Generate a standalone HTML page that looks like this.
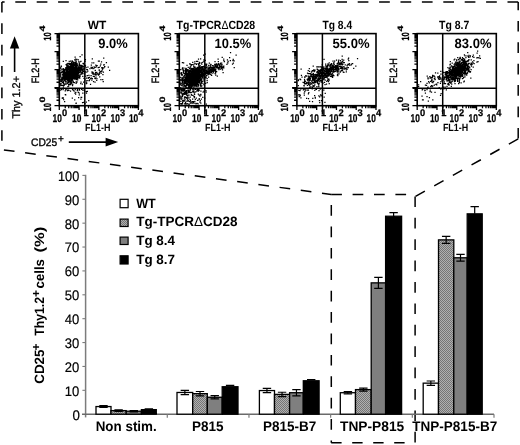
<!DOCTYPE html>
<html><head><meta charset="utf-8"><title>Figure</title>
<style>html,body{margin:0;padding:0;background:#fff}svg{display:block}text{font-family:"Liberation Sans", sans-serif;text-rendering:geometricPrecision}</style></head><body>
<svg width="520" height="445" viewBox="0 0 520 445" font-family='"Liberation Sans", sans-serif'>
<defs><pattern id="hatch" width="2" height="2" patternUnits="userSpaceOnUse"><rect width="2" height="2" fill="#b0b0b0"/><rect x="0" y="0" width="1" height="1" fill="#747474"/><rect x="1" y="1" width="1" height="1" fill="#747474"/></pattern><filter id="soft" x="0" y="0" width="520" height="445" filterUnits="userSpaceOnUse"><feGaussianBlur stdDeviation="0.38"/></filter></defs>
<rect width="520" height="445" fill="#fff"/>
<g filter="url(#soft)">
<rect width="520" height="445" fill="#fff"/>
<path d="M518.2 1.9 H1.9" stroke-dasharray="10.7 10.7" fill="none" stroke="#000" stroke-width="1.5"/>
<path d="M1.9 1.9 V140.7" stroke-dasharray="10.7 10.7" fill="none" stroke="#000" stroke-width="1.5"/>
<path d="M518.2 138.6 V1.9" stroke-dasharray="10.7 10.7" fill="none" stroke="#000" stroke-width="1.5"/>
<path d="M3.9 149.9 L331.2 194.4" stroke-dasharray="10.7 10.7" fill="none" stroke="#000" stroke-width="1.5"/>
<path d="M518.2 138.8 L415.1 196.6" stroke-dasharray="10.7 10.7" fill="none" stroke="#000" stroke-width="1.5"/>
<path d="M415.1 196.4 V446" stroke-dasharray="10.7 10.7" fill="none" stroke="#000" stroke-width="1.5"/>
<path d="M331.2 194.4 H408" stroke-dasharray="10.7 10.7" fill="none" stroke="#000" stroke-width="1.5"/>
<path d="M331.3 194.4 V442.8" stroke-dasharray="10.7 10.7" fill="none" stroke="#000" stroke-width="1.5" stroke-dashoffset="10.7"/>
<path d="M331.2 442.8 H408" stroke-dasharray="10.4 10.6" fill="none" stroke="#000" stroke-width="1.5"/>
<g>
<path d="M61.9 78.8h1.25M72.4 74.6h1.25M75.1 69.7h1.25M66.1 67.3h1.25M68.2 79.4h1.25M73.8 69.9h1.25M68.1 74.4h1.25M68.1 67.3h1.25M69.0 75.9h1.25M65.5 69.3h1.25M63.9 80.7h1.25M79.2 78.1h1.25M67.2 68.1h1.25M66.4 63.8h1.25M65.1 76.2h1.25M78.0 73.4h1.25M80.7 67.8h1.25M79.1 62.1h1.25M81.4 72.8h1.25M61.9 79.6h1.25M66.8 76.1h1.25M66.4 73.1h1.25M74.1 59.9h1.25M76.1 82.1h1.25M68.5 72.5h1.25M62.9 82.1h1.25M71.6 74.4h1.25M71.0 71.5h1.25M79.6 68.6h1.25M75.3 76.6h1.25M67.4 65.2h1.25M76.8 78.3h1.25M70.5 68.5h1.25M73.9 64.5h1.25M69.2 67.9h1.25M63.3 78.6h1.25M75.0 78.3h1.25M63.5 78.8h1.25M71.9 76.9h1.25M66.9 66.4h1.25M70.8 78.8h1.25M66.6 71.8h1.25M70.5 70.3h1.25M76.6 76.1h1.25M66.0 81.9h1.25M70.7 77.7h1.25M71.1 72.8h1.25M74.3 70.0h1.25M63.1 85.6h1.25M71.5 70.1h1.25M76.5 70.6h1.25M65.2 70.0h1.25M67.3 73.3h1.25M65.0 79.7h1.25M61.8 78.9h1.25M73.6 72.9h1.25M68.0 79.5h1.25M77.7 68.4h1.25M69.9 71.8h1.25M79.6 76.1h1.25M70.6 68.6h1.25M68.7 76.3h1.25M74.0 75.3h1.25M70.1 76.4h1.25M67.6 78.2h1.25M73.2 69.3h1.25M74.4 71.6h1.25M71.0 62.5h1.25M66.9 69.1h1.25M81.7 66.0h1.25M76.1 71.7h1.25M70.5 67.1h1.25M75.7 66.1h1.25M70.2 69.2h1.25M68.1 66.8h1.25M65.9 67.3h1.25M74.3 74.6h1.25M71.2 83.4h1.25M80.9 68.9h1.25M68.5 81.5h1.25M76.9 70.5h1.25M60.1 76.1h1.25M72.3 78.8h1.25M76.3 72.0h1.25M74.0 65.8h1.25M75.8 70.2h1.25M74.6 75.8h1.25M75.4 68.6h1.25M68.4 79.1h1.25M79.6 69.6h1.25M74.7 72.3h1.25M73.5 78.4h1.25M65.2 67.5h1.25M80.0 69.6h1.25M75.9 75.7h1.25M67.8 71.8h1.25M63.8 75.1h1.25M87.2 71.1h1.25M82.3 67.0h1.25M67.3 77.6h1.25M82.3 69.2h1.25M74.2 62.5h1.25M75.4 74.1h1.25M72.3 77.1h1.25M72.9 70.6h1.25M75.8 67.2h1.25M67.6 74.7h1.25M67.3 73.2h1.25M74.2 70.7h1.25M74.0 74.2h1.25M75.6 79.6h1.25M71.7 71.4h1.25M76.3 68.7h1.25M65.9 73.6h1.25M73.7 75.3h1.25M70.4 70.8h1.25M67.0 77.6h1.25M72.9 78.7h1.25M64.8 76.9h1.25M74.6 71.8h1.25M66.3 66.3h1.25M65.3 78.6h1.25M64.3 72.4h1.25M63.4 76.7h1.25M67.7 68.0h1.25M71.4 71.6h1.25M73.5 73.7h1.25M73.9 76.6h1.25M70.6 67.8h1.25M73.3 75.1h1.25M67.8 81.1h1.25M80.8 66.8h1.25M64.5 79.6h1.25M74.7 71.9h1.25M75.6 73.0h1.25M75.5 77.6h1.25M66.8 72.9h1.25M71.2 78.8h1.25M72.7 69.3h1.25M84.9 66.2h1.25M67.8 63.6h1.25M79.0 64.8h1.25M67.4 76.1h1.25M65.8 71.5h1.25M80.3 70.3h1.25M68.9 75.1h1.25M62.4 75.5h1.25M76.3 74.7h1.25M62.6 81.0h1.25M61.5 78.3h1.25M69.2 73.9h1.25M79.6 67.1h1.25M66.4 76.6h1.25M75.8 77.4h1.25M72.8 62.8h1.25M70.9 66.4h1.25M65.8 79.9h1.25M73.6 67.4h1.25M60.1 83.3h1.25M75.8 70.8h1.25M68.9 76.6h1.25M72.2 65.4h1.25M68.3 75.5h1.25M82.6 69.9h1.25M66.9 75.6h1.25M73.2 72.7h1.25M70.6 65.7h1.25M65.5 69.7h1.25M65.2 70.0h1.25M71.4 72.2h1.25M60.1 77.2h1.25M76.1 64.9h1.25M74.9 66.3h1.25M71.6 77.4h1.25M61.2 77.8h1.25M64.6 90.9h1.25M65.5 64.7h1.25M71.9 73.0h1.25M82.4 63.5h1.25M69.9 69.7h1.25M71.3 79.1h1.25M74.3 71.8h1.25M72.1 67.7h1.25M72.5 75.2h1.25M67.4 63.4h1.25M63.8 70.4h1.25M76.0 79.5h1.25M67.9 69.1h1.25M81.7 70.7h1.25M73.0 74.8h1.25M66.8 76.9h1.25M70.0 68.7h1.25M81.4 54.9h1.25M71.1 72.2h1.25M69.0 74.4h1.25M72.9 76.4h1.25M74.7 68.4h1.25M81.8 69.4h1.25M72.6 74.9h1.25M67.2 83.3h1.25M73.9 75.4h1.25M79.4 68.4h1.25M65.8 68.4h1.25M62.9 76.5h1.25M66.8 74.6h1.25M70.5 81.7h1.25M70.7 64.5h1.25M74.4 75.3h1.25M71.2 69.5h1.25M60.8 66.1h1.25M70.4 65.7h1.25M67.7 71.9h1.25M75.5 67.2h1.25M78.2 66.8h1.25M73.4 68.9h1.25M77.4 73.0h1.25M73.4 74.4h1.25M66.6 72.5h1.25M69.6 76.7h1.25M68.6 73.1h1.25M75.7 73.9h1.25M60.1 79.7h1.25M67.7 74.2h1.25M68.9 77.9h1.25M60.1 68.4h1.25M71.2 67.3h1.25M69.7 70.3h1.25M76.4 72.6h1.25M60.1 72.0h1.25M73.7 72.8h1.25M70.3 72.0h1.25M74.9 64.2h1.25M71.0 79.7h1.25M68.4 70.8h1.25M70.1 72.7h1.25M69.1 75.8h1.25M74.8 71.1h1.25M79.3 70.7h1.25M62.2 74.3h1.25M66.4 71.6h1.25M68.9 80.7h1.25M75.3 75.4h1.25M71.4 69.1h1.25M73.6 70.2h1.25M73.3 72.2h1.25M76.5 73.0h1.25M65.0 75.8h1.25M80.2 69.4h1.25M65.4 77.4h1.25M78.2 68.5h1.25M60.1 73.5h1.25M68.1 74.1h1.25M76.8 71.1h1.25M78.4 68.5h1.25M65.6 79.3h1.25M70.2 63.5h1.25M71.9 61.6h1.25M63.0 79.1h1.25M72.4 64.4h1.25M75.4 67.4h1.25M82.4 73.1h1.25M72.5 67.3h1.25M74.1 79.2h1.25M63.6 77.2h1.25M70.5 74.7h1.25M69.5 76.2h1.25M72.0 64.9h1.25M67.0 70.0h1.25M64.9 79.1h1.25M75.2 67.6h1.25M73.3 70.5h1.25M62.5 72.4h1.25M81.2 66.2h1.25M72.6 72.9h1.25M68.7 74.4h1.25M64.9 73.6h1.25M68.5 70.6h1.25M78.5 70.3h1.25M62.8 69.1h1.25M77.5 69.3h1.25M64.2 75.5h1.25M68.0 67.7h1.25M60.8 85.4h1.25M69.0 79.1h1.25M68.7 79.1h1.25M75.1 74.1h1.25M74.8 77.7h1.25M73.2 68.2h1.25M72.0 80.1h1.25M68.5 71.4h1.25M70.4 71.0h1.25M65.0 84.2h1.25M66.2 79.5h1.25M77.4 74.6h1.25M65.2 82.1h1.25M74.6 76.6h1.25M75.3 74.0h1.25M71.8 66.9h1.25M69.6 76.6h1.25M61.4 80.3h1.25M67.8 69.5h1.25M74.9 59.2h1.25M65.6 71.2h1.25M70.2 82.6h1.25M77.6 77.3h1.25M73.6 77.8h1.25M75.2 75.3h1.25M77.6 71.1h1.25M73.1 70.7h1.25M68.8 76.4h1.25M73.8 75.2h1.25M63.4 72.0h1.25M70.6 77.7h1.25M76.0 71.2h1.25M81.9 72.2h1.25M72.2 71.8h1.25M65.2 77.8h1.25M65.3 72.2h1.25M69.9 66.1h1.25M75.3 75.6h1.25M72.9 77.0h1.25M73.6 65.8h1.25M75.2 73.0h1.25M69.6 74.6h1.25M67.9 75.3h1.25M75.3 77.3h1.25M74.6 71.2h1.25M63.9 80.3h1.25M66.1 74.1h1.25M60.1 74.1h1.25M73.6 64.8h1.25M64.7 81.2h1.25M68.7 67.8h1.25M69.9 75.0h1.25M70.2 65.2h1.25M77.2 69.1h1.25M70.0 74.7h1.25M66.8 66.6h1.25M68.0 69.9h1.25M72.5 74.8h1.25M71.5 66.8h1.25M67.6 78.5h1.25M65.4 60.5h1.25M73.4 75.0h1.25M64.0 75.7h1.25M73.0 68.9h1.25M63.8 72.8h1.25M69.1 69.6h1.25M65.4 69.1h1.25M68.0 73.1h1.25M73.9 73.9h1.25M60.8 72.4h1.25M68.2 79.2h1.25M76.9 76.5h1.25M74.2 78.2h1.25M71.5 67.7h1.25M71.9 85.5h1.25M70.9 78.7h1.25M69.6 66.7h1.25M76.8 77.1h1.25M78.7 63.5h1.25M80.7 65.3h1.25M63.5 72.8h1.25M77.2 75.7h1.25M68.0 68.6h1.25M71.6 60.8h1.25M65.4 74.0h1.25M68.9 80.5h1.25M72.9 68.5h1.25M68.0 76.9h1.25M65.1 68.8h1.25M64.4 74.1h1.25M80.3 61.4h1.25M75.5 81.8h1.25M69.1 67.1h1.25M61.7 82.7h1.25M69.3 68.4h1.25M80.5 73.7h1.25M71.0 70.2h1.25M78.4 76.1h1.25M76.0 72.6h1.25M70.7 75.0h1.25M77.4 71.5h1.25M63.5 79.8h1.25M71.8 64.9h1.25M69.6 73.0h1.25M71.8 72.7h1.25M80.6 69.4h1.25M70.0 73.9h1.25M72.9 77.1h1.25M68.5 70.5h1.25M64.5 76.7h1.25M70.1 64.9h1.25M68.2 69.7h1.25M75.1 72.4h1.25M74.2 76.6h1.25M68.7 73.1h1.25M71.4 70.0h1.25M68.3 75.9h1.25M75.8 74.1h1.25M69.5 72.0h1.25M79.8 68.1h1.25M70.3 74.3h1.25M70.9 68.5h1.25M73.1 72.9h1.25M71.5 72.1h1.25M74.5 72.2h1.25M68.0 71.6h1.25M70.0 79.0h1.25M67.0 76.2h1.25M68.8 68.5h1.25M61.4 69.3h1.25M72.1 70.3h1.25M67.2 76.8h1.25M71.7 64.3h1.25M75.1 70.3h1.25M70.5 72.7h1.25M73.9 69.5h1.25M63.3 73.8h1.25M75.9 78.6h1.25M67.3 74.0h1.25M65.9 73.5h1.25M75.9 78.2h1.25M60.1 75.6h1.25M73.8 82.5h1.25M74.7 71.6h1.25M62.7 77.9h1.25M69.0 74.8h1.25M81.5 66.0h1.25M74.9 75.4h1.25M63.4 84.3h1.25M74.4 73.0h1.25M73.4 77.3h1.25M74.7 63.1h1.25M82.8 66.3h1.25M69.5 70.9h1.25M73.0 68.1h1.25M74.8 68.1h1.25M77.8 75.6h1.25M67.3 71.8h1.25M77.6 74.5h1.25M70.0 76.0h1.25M72.6 81.4h1.25M74.9 65.4h1.25M81.0 67.3h1.25M71.1 69.3h1.25M77.0 72.1h1.25M70.4 70.7h1.25M62.2 75.0h1.25M85.0 76.2h1.25M71.4 69.7h1.25M74.3 69.5h1.25M69.8 78.9h1.25M67.9 74.5h1.25M79.2 67.7h1.25M67.3 83.1h1.25M74.5 75.0h1.25M73.0 71.3h1.25M76.2 66.8h1.25M70.1 73.1h1.25M73.2 82.6h1.25M64.1 77.8h1.25M72.8 67.8h1.25M76.0 69.0h1.25M69.8 75.5h1.25M70.8 74.4h1.25M69.7 70.1h1.25M66.2 83.9h1.25M72.9 66.2h1.25M74.2 70.7h1.25M68.3 81.8h1.25M69.5 81.3h1.25M68.2 80.3h1.25M68.8 74.7h1.25M79.2 65.2h1.25M61.1 79.0h1.25M77.3 73.8h1.25M69.5 71.9h1.25M65.8 81.8h1.25M66.0 74.5h1.25M70.1 76.5h1.25M71.0 80.2h1.25M66.5 78.5h1.25M64.6 72.3h1.25M70.3 78.1h1.25M70.9 68.9h1.25M68.0 68.9h1.25M70.6 75.5h1.25M75.9 69.2h1.25M69.4 81.2h1.25M66.1 76.9h1.25M71.7 70.4h1.25M75.5 83.4h1.25M69.3 84.3h1.25M60.1 73.6h1.25M71.0 70.8h1.25M70.4 84.0h1.25M74.6 70.4h1.25M67.2 73.9h1.25M72.3 68.2h1.25M64.4 73.9h1.25M66.2 78.2h1.25M72.3 81.4h1.25M72.1 67.5h1.25M66.2 71.5h1.25M74.4 69.6h1.25M66.9 69.7h1.25M74.8 73.4h1.25M60.1 72.4h1.25M67.7 81.6h1.25M72.1 63.6h1.25M68.1 73.5h1.25M73.2 76.5h1.25M73.5 72.0h1.25M71.7 78.0h1.25M68.0 86.2h1.25M69.5 73.4h1.25M62.0 85.3h1.25M66.0 71.3h1.25M65.3 73.9h1.25M69.5 66.8h1.25M73.9 71.1h1.25M75.7 63.8h1.25M67.9 68.6h1.25M74.8 65.0h1.25M79.8 69.1h1.25M78.3 71.4h1.25M63.4 73.1h1.25M69.7 71.7h1.25M75.7 67.2h1.25M74.5 74.4h1.25M63.2 73.9h1.25M74.8 73.1h1.25M60.1 70.1h1.25M64.7 78.0h1.25M62.8 78.3h1.25M75.4 69.7h1.25M65.8 78.2h1.25M84.5 65.3h1.25M76.0 63.0h1.25M71.4 62.1h1.25M74.3 64.5h1.25M74.0 70.3h1.25M68.5 66.8h1.25M75.0 75.5h1.25M67.2 77.6h1.25M71.0 78.7h1.25M69.9 84.5h1.25M72.0 70.8h1.25M68.9 84.5h1.25M60.1 72.0h1.25M62.7 61.4h1.25M68.0 76.4h1.25M70.6 72.9h1.25M64.2 77.7h1.25M68.0 79.3h1.25M71.0 76.1h1.25M67.5 70.0h1.25M70.0 78.5h1.25M74.2 74.9h1.25M63.2 72.7h1.25M70.7 71.0h1.25M76.6 70.3h1.25M74.0 68.1h1.25M71.2 75.3h1.25M76.4 81.8h1.25M74.4 71.8h1.25M78.5 69.5h1.25M69.4 82.0h1.25M73.5 69.5h1.25M65.0 78.2h1.25M63.9 74.0h1.25M67.8 82.4h1.25M66.7 72.5h1.25M72.5 72.9h1.25M69.7 73.9h1.25M72.9 72.8h1.25M60.1 72.5h1.25M73.2 62.1h1.25M69.4 64.4h1.25M69.0 75.8h1.25M70.5 69.8h1.25M71.1 74.4h1.25M67.6 72.1h1.25M63.9 71.0h1.25M60.1 68.3h1.25M70.6 66.6h1.25M63.1 71.6h1.25M60.1 75.8h1.25M63.0 83.3h1.25M72.4 74.7h1.25M63.5 85.4h1.25M85.5 67.5h1.25M65.4 68.8h1.25M64.1 72.4h1.25M71.1 74.6h1.25M76.3 72.5h1.25M76.7 69.4h1.25M73.4 70.2h1.25M62.5 81.7h1.25M76.1 68.1h1.25M75.0 69.9h1.25M70.8 74.1h1.25M69.3 71.7h1.25M72.3 78.5h1.25M74.1 70.3h1.25M74.7 77.5h1.25M64.0 75.3h1.25M66.5 68.5h1.25M75.9 69.0h1.25M71.1 78.9h1.25M68.8 67.3h1.25M68.9 74.2h1.25M69.8 75.4h1.25M69.8 78.3h1.25M65.9 75.2h1.25M65.1 75.7h1.25M76.4 79.6h1.25M66.1 70.8h1.25M67.2 82.8h1.25M66.5 78.6h1.25M69.0 73.8h1.25M79.2 75.1h1.25M71.6 69.9h1.25M78.9 77.3h1.25M66.0 75.6h1.25M73.0 74.6h1.25M62.4 71.6h1.25M66.4 76.3h1.25M73.4 68.9h1.25M72.8 82.3h1.25M72.2 75.6h1.25M76.6 71.2h1.25M63.0 71.7h1.25M76.1 73.5h1.25M78.5 64.3h1.25M63.4 70.1h1.25M73.3 71.6h1.25M63.3 72.7h1.25M66.9 78.9h1.25M69.1 82.1h1.25M71.1 76.2h1.25M75.6 61.2h1.25M75.0 67.7h1.25M61.6 71.2h1.25M68.9 67.4h1.25M83.1 71.3h1.25M75.7 78.9h1.25M62.9 75.1h1.25M86.2 72.0h1.25M69.8 67.6h1.25M68.4 76.5h1.25M73.5 69.1h1.25M70.8 74.0h1.25M66.7 75.2h1.25M74.7 73.6h1.25M73.1 78.0h1.25M72.2 71.7h1.25M81.2 73.1h1.25M78.5 67.8h1.25M76.5 70.4h1.25M62.9 70.9h1.25M67.1 66.4h1.25M63.3 77.7h1.25M76.7 64.0h1.25M69.5 83.6h1.25M62.9 76.0h1.25M76.9 77.8h1.25M73.8 68.9h1.25M72.4 65.2h1.25M67.4 80.3h1.25M70.9 76.9h1.25M70.9 82.4h1.25M70.3 71.9h1.25M79.4 72.3h1.25M69.3 66.0h1.25M72.6 72.0h1.25M70.3 80.0h1.25M72.4 67.3h1.25M69.3 67.7h1.25M73.2 74.1h1.25M66.3 68.0h1.25M80.8 72.2h1.25M78.3 71.2h1.25M67.3 74.7h1.25M76.7 69.5h1.25M75.0 68.7h1.25M68.7 71.2h1.25M71.5 71.1h1.25M76.6 67.2h1.25M68.9 64.4h1.25M72.1 70.7h1.25M68.1 63.7h1.25M69.6 78.7h1.25M69.2 77.0h1.25M77.6 68.1h1.25M82.2 76.3h1.25M75.8 73.1h1.25M75.2 62.6h1.25M75.9 73.1h1.25M69.6 76.4h1.25M83.5 68.9h1.25M80.5 74.4h1.25M64.9 83.8h1.25M62.9 73.2h1.25M60.1 84.9h1.25M64.0 74.6h1.25M68.1 68.9h1.25M72.5 72.1h1.25M74.2 78.8h1.25M69.7 76.0h1.25M77.1 79.9h1.25M77.6 74.5h1.25M78.0 61.8h1.25M68.9 74.3h1.25M64.7 94.5h1.25M75.3 63.1h1.25M77.1 78.2h1.25M66.9 79.0h1.25M75.5 64.3h1.25M79.5 56.6h1.25M71.6 77.5h1.25M77.8 67.9h1.25M64.1 80.6h1.25M74.6 73.8h1.25M69.0 75.7h1.25M72.6 69.4h1.25M69.2 71.7h1.25M67.6 81.8h1.25M72.1 84.5h1.25M68.0 84.6h1.25M69.0 74.1h1.25M60.1 80.8h1.25M71.7 67.6h1.25M71.5 75.4h1.25M65.7 76.8h1.25M80.5 66.8h1.25M66.8 77.4h1.25M73.6 74.4h1.25M64.3 79.0h1.25M76.4 65.2h1.25M66.7 66.5h1.25M65.4 73.9h1.25M69.5 75.9h1.25M77.6 77.1h1.25M72.0 68.5h1.25M72.4 77.1h1.25M68.4 69.9h1.25M69.8 78.1h1.25M60.8 81.3h1.25M68.6 72.2h1.25M78.6 67.0h1.25M64.3 73.4h1.25M71.0 66.3h1.25M63.1 76.8h1.25M66.0 72.7h1.25M69.1 71.4h1.25M82.7 63.3h1.25M62.6 68.5h1.25M70.8 70.9h1.25M75.7 67.7h1.25M81.3 65.6h1.25M61.9 74.0h1.25M75.8 77.5h1.25M69.2 71.9h1.25M76.2 69.8h1.25M73.8 74.6h1.25M81.7 70.1h1.25M75.1 73.5h1.25M70.9 65.7h1.25M71.2 67.5h1.25M75.0 73.6h1.25M66.8 78.4h1.25M72.5 69.3h1.25M71.9 79.4h1.25M72.5 71.3h1.25M75.5 70.6h1.25M60.1 67.6h1.25M68.5 72.4h1.25M83.3 64.2h1.25M72.8 73.9h1.25M84.1 74.3h1.25M69.8 72.4h1.25M66.0 81.8h1.25M70.8 80.5h1.25M86.1 69.7h1.25M73.8 72.6h1.25M64.8 74.7h1.25M72.1 77.0h1.25M73.0 74.5h1.25M75.4 62.3h1.25M77.9 69.4h1.25M60.1 90.0h1.25M71.8 72.3h1.25M68.7 79.7h1.25M79.8 71.5h1.25M73.8 75.7h1.25M76.2 59.4h1.25M63.1 69.7h1.25M70.5 75.9h1.25M71.7 74.9h1.25M71.4 75.7h1.25M73.2 71.3h1.25M60.8 89.4h1.25M69.6 77.0h1.25M75.4 70.7h1.25M75.3 75.2h1.25M68.6 61.4h1.25M76.0 73.0h1.25M62.7 87.0h1.25M75.3 68.2h1.25M75.3 68.4h1.25M70.7 63.8h1.25M69.8 75.6h1.25M73.1 73.5h1.25M62.0 82.2h1.25M75.7 74.3h1.25M81.3 68.5h1.25M72.6 67.1h1.25M75.7 79.1h1.25M77.7 73.0h1.25M65.4 70.1h1.25M64.5 74.3h1.25M75.9 64.2h1.25M76.5 71.9h1.25M79.2 74.9h1.25M68.1 71.7h1.25M75.9 70.3h1.25M74.5 57.2h1.25M77.4 71.4h1.25M70.5 73.9h1.25M65.9 65.0h1.25M67.6 65.9h1.25M67.3 76.6h1.25M72.9 74.0h1.25M70.5 75.2h1.25M67.9 72.7h1.25M78.7 68.5h1.25M67.4 82.6h1.25M74.1 74.2h1.25M74.5 72.5h1.25M74.6 71.0h1.25M64.1 84.2h1.25M61.9 77.0h1.25M74.4 70.0h1.25M68.0 74.8h1.25M64.9 75.6h1.25M67.7 82.1h1.25M78.3 70.2h1.25M75.4 75.5h1.25M74.8 71.8h1.25M60.5 66.4h1.25M80.6 65.5h1.25M74.9 75.9h1.25M66.5 69.9h1.25M67.5 72.0h1.25M70.9 70.4h1.25M65.4 69.9h1.25M70.0 61.0h1.25M60.1 79.0h1.25M72.0 65.6h1.25M73.1 68.9h1.25M68.9 76.3h1.25M68.0 72.6h1.25M75.3 76.8h1.25M72.3 74.0h1.25M82.5 66.1h1.25M73.9 78.4h1.25M84.4 61.4h1.25M72.1 72.8h1.25M74.9 71.0h1.25M68.1 76.1h1.25M72.1 71.0h1.25M73.3 71.4h1.25M68.8 63.3h1.25M60.1 73.0h1.25M68.0 68.1h1.25M69.8 68.5h1.25M69.1 69.9h1.25M78.4 68.3h1.25M66.0 79.7h1.25M67.7 69.9h1.25M73.1 74.0h1.25M77.1 73.0h1.25M72.6 73.8h1.25M72.3 69.1h1.25M71.5 75.0h1.25M66.7 70.9h1.25M74.8 69.6h1.25M83.3 68.2h1.25M70.0 74.2h1.25M77.2 72.4h1.25M78.3 77.8h1.25M65.1 69.5h1.25M66.4 74.1h1.25M73.1 69.7h1.25M72.8 73.0h1.25M69.1 77.5h1.25M70.8 65.1h1.25M76.3 70.4h1.25M72.6 82.3h1.25M78.0 67.2h1.25M71.3 70.4h1.25M70.0 72.4h1.25M70.8 69.4h1.25M72.7 77.8h1.25M62.1 77.9h1.25M75.6 67.3h1.25M78.4 72.5h1.25M75.5 69.4h1.25M76.8 65.7h1.25M75.0 78.5h1.25M75.8 70.9h1.25M77.7 59.8h1.25M73.8 67.5h1.25M71.2 76.6h1.25M80.6 67.5h1.25M82.2 73.9h1.25M70.4 74.5h1.25M72.2 71.8h1.25M69.4 70.4h1.25M68.7 76.7h1.25M67.7 75.6h1.25M65.9 73.0h1.25M60.1 85.5h1.25M76.4 73.9h1.25M63.2 75.3h1.25M75.2 60.9h1.25M73.8 65.8h1.25M75.3 75.3h1.25M64.5 75.2h1.25M71.5 77.8h1.25M64.3 78.1h1.25M77.2 71.9h1.25M62.7 77.4h1.25M67.3 86.6h1.25M68.0 66.3h1.25M73.2 68.9h1.25M63.9 69.4h1.25M66.8 90.7h1.25M69.3 63.4h1.25M73.5 73.3h1.25M67.1 80.7h1.25M66.5 65.2h1.25M71.5 77.5h1.25M73.7 72.1h1.25M69.7 72.6h1.25M77.9 68.7h1.25M82.3 71.1h1.25M77.2 70.3h1.25M76.0 70.7h1.25M74.0 73.4h1.25M70.4 63.8h1.25M71.7 70.2h1.25M76.5 63.8h1.25M79.7 65.7h1.25M73.3 71.0h1.25M60.1 84.2h1.25M71.5 76.2h1.25M70.3 70.0h1.25M70.3 79.7h1.25M84.8 59.5h1.25M71.4 69.2h1.25M63.9 76.1h1.25M65.7 74.4h1.25M75.5 73.2h1.25M74.5 68.8h1.25M74.1 64.9h1.25M69.7 77.5h1.25M73.4 63.7h1.25M60.1 81.3h1.25M77.1 70.5h1.25M74.0 68.0h1.25M70.2 79.6h1.25M76.4 76.1h1.25M71.4 71.1h1.25M70.6 71.5h1.25M69.8 75.7h1.25M75.7 69.8h1.25M72.3 68.3h1.25M75.1 75.2h1.25M73.9 77.8h1.25M63.9 79.1h1.25M72.0 67.3h1.25M72.7 76.5h1.25M60.1 75.0h1.25M70.2 80.0h1.25M60.4 83.6h1.25M67.1 67.4h1.25M71.9 65.6h1.25M73.6 65.3h1.25M78.4 65.7h1.25M71.9 76.7h1.25M75.0 75.6h1.25M61.9 72.1h1.25M69.0 67.3h1.25M76.6 69.0h1.25M76.4 76.9h1.25M62.9 82.7h1.25M71.9 71.3h1.25M95.5 74.5h1.25M99.9 71.5h1.25M98.0 75.2h1.25M89.9 84.3h1.25M91.8 67.4h1.25M103.5 64.6h1.25M98.7 61.1h1.25M93.8 67.9h1.25M94.4 82.1h1.25M96.1 72.8h1.25M104.0 66.7h1.25M95.7 66.0h1.25M109.0 70.3h1.25M100.9 61.8h1.25M94.6 73.8h1.25M92.5 74.3h1.25M101.2 71.6h1.25M89.4 68.7h1.25M83.4 78.4h1.25M84.8 71.9h1.25M99.8 65.8h1.25M100.5 73.3h1.25M104.2 66.5h1.25M101.3 70.3h1.25M91.4 71.8h1.25M80.4 82.0h1.25M84.2 73.0h1.25M94.9 72.6h1.25M92.3 72.3h1.25M91.7 58.9h1.25M95.2 67.4h1.25M97.5 74.7h1.25M81.7 84.0h1.25M89.2 79.3h1.25M90.9 78.0h1.25M94.7 70.7h1.25M96.1 80.4h1.25M92.9 81.7h1.25M102.3 68.4h1.25M92.7 76.4h1.25M97.8 61.0h1.25M105.8 62.7h1.25M80.1 83.6h1.25M102.0 69.1h1.25M96.1 72.3h1.25M93.5 66.8h1.25M98.7 73.2h1.25M94.8 78.5h1.25M102.8 72.1h1.25M93.9 74.0h1.25M85.9 78.0h1.25M93.7 76.4h1.25M91.7 78.7h1.25M87.2 80.5h1.25M102.1 79.7h1.25M94.8 74.5h1.25M93.1 62.8h1.25M98.6 70.3h1.25M90.5 75.7h1.25M91.2 80.1h1.25M87.7 77.5h1.25M92.7 73.0h1.25M102.3 74.5h1.25M101.0 67.9h1.25M87.3 67.1h1.25M88.3 75.3h1.25M91.5 73.2h1.25M103.4 67.6h1.25M95.4 77.2h1.25M86.8 69.7h1.25M88.8 80.7h1.25M90.1 78.3h1.25M99.2 72.3h1.25M102.6 81.6h1.25M92.5 68.7h1.25M99.1 76.9h1.25M91.4 62.8h1.25M85.5 80.7h1.25M98.3 73.8h1.25M96.5 65.6h1.25M86.7 75.7h1.25M90.4 75.7h1.25M88.8 77.3h1.25M107.7 67.1h1.25M98.6 74.4h1.25M96.3 78.7h1.25M90.7 65.1h1.25M96.8 73.8h1.25M94.6 70.4h1.25M84.4 79.1h1.25M87.6 78.4h1.25M100.2 64.1h1.25M96.3 73.1h1.25M95.2 65.2h1.25M98.6 67.4h1.25M97.6 67.7h1.25M83.0 82.2h1.25M98.6 69.9h1.25M85.6 82.2h1.25M91.1 68.4h1.25M103.2 65.1h1.25M90.5 67.4h1.25M101.7 67.6h1.25M103.1 58.2h1.25M95.3 75.0h1.25M94.1 78.1h1.25M86.2 83.0h1.25M100.3 79.5h1.25M85.7 83.7h1.25M99.5 71.3h1.25M74.1 99.8h1.25M69.9 91.0h1.25M74.3 93.2h1.25M71.7 98.2h1.25M62.4 97.5h1.25M83.2 102.4h1.25M75.4 103.4h1.25M85.7 102.1h1.25M61.6 98.1h1.25M63.1 99.7h1.25M64.0 101.5h1.25M85.5 91.6h1.25M75.0 94.0h1.25M82.1 90.0h1.25M62.5 98.3h1.25M81.9 102.5h1.25M62.5 89.7h1.25M86.7 91.4h1.25M75.2 92.4h1.25M88.1 100.5h1.25M78.7 94.8h1.25M77.7 92.4h1.25M65.1 94.8h1.25M78.6 93.2h1.25M82.2 93.1h1.25M78.0 97.5h1.25M80.3 99.0h1.25M85.9 93.1h1.25M80.5 97.3h1.25M78.9 90.0h1.25M75.6 103.2h1.25M73.5 91.0h1.25M81.0 97.4h1.25M84.3 103.6h1.25M68.3 90.3h1.25M67.5 88.9h1.25M78.8 89.2h1.25M71.9 89.5h1.25M67.0 90.7h1.25M74.6 89.6h1.25M81.0 89.4h1.25M77.0 90.5h1.25M66.3 88.9h1.25M77.0 89.4h1.25M83.5 90.0h1.25M65.2 89.5h1.25M76.6 90.1h1.25M72.8 90.1h1.25" stroke="#000" stroke-width="1.25" fill="none"/>
<rect x="59.3" y="33.6" width="79.1" height="72.1" fill="none" stroke="#000" stroke-width="1.6"/>
<line x1="84.8" y1="33.6" x2="84.8" y2="114.7" stroke="#000" stroke-width="1.5" />
<line x1="54.699999999999996" y1="88.2" x2="138.39999999999998" y2="88.2" stroke="#000" stroke-width="1.6" />
<path d="M59.30 105.7v4.2M59.3 105.70h-4.8M65.25 105.7v2.6M59.3 100.27h-2.8M68.74 105.7v2.6M59.3 97.10h-2.8M71.21 105.7v2.6M59.3 94.85h-2.8M73.12 105.7v2.6M59.3 93.10h-2.8M74.69 105.7v2.6M59.3 91.67h-2.8M76.01 105.7v2.6M59.3 90.47h-2.8M77.16 105.7v2.6M59.3 89.42h-2.8M78.17 105.7v2.6M59.3 88.50h-2.8M79.07 105.7v4.2M59.3 87.68h-4.8M85.03 105.7v2.6M59.3 82.25h-2.8M88.51 105.7v2.6M59.3 79.07h-2.8M90.98 105.7v2.6M59.3 76.82h-2.8M92.90 105.7v2.6M59.3 75.08h-2.8M94.46 105.7v2.6M59.3 73.65h-2.8M95.79 105.7v2.6M59.3 72.44h-2.8M96.93 105.7v2.6M59.3 71.40h-2.8M97.95 105.7v2.6M59.3 70.47h-2.8M98.85 105.7v4.2M59.3 69.65h-4.8M104.80 105.7v2.6M59.3 64.22h-2.8M108.29 105.7v2.6M59.3 61.05h-2.8M110.76 105.7v2.6M59.3 58.80h-2.8M112.67 105.7v2.6M59.3 57.05h-2.8M114.24 105.7v2.6M59.3 55.62h-2.8M115.56 105.7v2.6M59.3 54.42h-2.8M116.71 105.7v2.6M59.3 53.37h-2.8M117.72 105.7v2.6M59.3 52.45h-2.8M118.62 105.7v4.2M59.3 51.63h-4.8M124.58 105.7v2.6M59.3 46.20h-2.8M128.06 105.7v2.6M59.3 43.02h-2.8M130.53 105.7v2.6M59.3 40.77h-2.8M132.45 105.7v2.6M59.3 39.03h-2.8M134.01 105.7v2.6M59.3 37.60h-2.8M135.34 105.7v2.6M59.3 36.39h-2.8M136.48 105.7v2.6M59.3 35.35h-2.8M137.50 105.7v2.6M59.3 34.42h-2.8M138.40 105.7v4.2M59.3 33.60h-4.8" stroke="#000" stroke-width="1.3" fill="none"/>
<text x="52.6" y="121.5" font-size="11.2" font-weight="bold" text-anchor="start" fill="#000" textLength="9.3" lengthAdjust="spacingAndGlyphs" stroke="#000" stroke-width="0.25">10</text>
<text x="62.0" y="115.9" font-size="9.6" font-weight="bold" text-anchor="start" fill="#000" textLength="5.2" lengthAdjust="spacingAndGlyphs" stroke="#000" stroke-width="0.25">0</text>
<text x="72.0" y="121.5" font-size="11.2" font-weight="bold" text-anchor="start" fill="#000" textLength="9.3" lengthAdjust="spacingAndGlyphs" stroke="#000" stroke-width="0.25">10</text>
<text x="83.4" y="115.9" font-size="9.6" font-weight="bold" text-anchor="start" fill="#000" textLength="5.2" lengthAdjust="spacingAndGlyphs" stroke="#000" stroke-width="0.25">1</text>
<text x="91.6" y="121.5" font-size="11.2" font-weight="bold" text-anchor="start" fill="#000" textLength="9.3" lengthAdjust="spacingAndGlyphs" stroke="#000" stroke-width="0.25">10</text>
<text x="101.0" y="115.9" font-size="9.6" font-weight="bold" text-anchor="start" fill="#000" textLength="5.2" lengthAdjust="spacingAndGlyphs" stroke="#000" stroke-width="0.25">2</text>
<text x="110.6" y="121.5" font-size="11.2" font-weight="bold" text-anchor="start" fill="#000" textLength="9.3" lengthAdjust="spacingAndGlyphs" stroke="#000" stroke-width="0.25">10</text>
<text x="120.0" y="115.9" font-size="9.6" font-weight="bold" text-anchor="start" fill="#000" textLength="5.2" lengthAdjust="spacingAndGlyphs" stroke="#000" stroke-width="0.25">3</text>
<text x="128.9" y="121.5" font-size="11.2" font-weight="bold" text-anchor="start" fill="#000" textLength="9.3" lengthAdjust="spacingAndGlyphs" stroke="#000" stroke-width="0.25">10</text>
<text x="138.3" y="115.9" font-size="9.6" font-weight="bold" text-anchor="start" fill="#000" textLength="5.2" lengthAdjust="spacingAndGlyphs" stroke="#000" stroke-width="0.25">4</text>
<text x="85.0" y="131.4" font-size="10.4" font-weight="bold" text-anchor="start" fill="#000" textLength="25.4" lengthAdjust="spacingAndGlyphs" >FL1-H</text>
<g transform="translate(50.7 111.6) rotate(-90)">
<text x="0" y="0" font-size="10.4" font-weight="bold" text-anchor="start" fill="#000" textLength="8.6" lengthAdjust="spacingAndGlyphs" stroke="#000" stroke-width="0.25">10</text>
<text x="9.2" y="-5.4" font-size="7.8" font-weight="bold" text-anchor="start" fill="#000" textLength="6.0" lengthAdjust="spacingAndGlyphs" stroke="#000" stroke-width="0.25">0</text>
</g>
<g transform="translate(50.7 40.8) rotate(-90)">
<text x="0" y="0" font-size="10.4" font-weight="bold" text-anchor="start" fill="#000" textLength="8.6" lengthAdjust="spacingAndGlyphs" stroke="#000" stroke-width="0.25">10</text>
<text x="9.2" y="-5.4" font-size="7.8" font-weight="bold" text-anchor="start" fill="#000" textLength="6.0" lengthAdjust="spacingAndGlyphs" stroke="#000" stroke-width="0.25">4</text>
</g>
<g transform="translate(38.9 83.2) rotate(-90)">
<text x="0" y="0" font-size="10.6" font-weight="normal" text-anchor="start" fill="#000" textLength="24.8" lengthAdjust="spacingAndGlyphs" stroke="#000" stroke-width="0.4">FL2-H</text>
</g>
<text x="97" y="28.9" font-size="11.9" font-weight="bold" text-anchor="middle" fill="#000" >WT</text>
<text x="98.3" y="48.1" font-size="13.6" font-weight="bold" text-anchor="start" fill="#000" textLength="29.4" lengthAdjust="spacingAndGlyphs" >9.0%</text>
</g>
<g>
<path d="M199.4 80.2h1.25M185.5 81.9h1.25M190.9 76.3h1.25M197.7 85.5h1.25M192.5 68.7h1.25M188.1 82.3h1.25M197.9 64.5h1.25M194.1 71.3h1.25M194.2 83.0h1.25M193.6 77.5h1.25M199.7 77.8h1.25M184.5 83.5h1.25M203.5 81.7h1.25M184.3 79.1h1.25M199.6 68.2h1.25M184.2 81.8h1.25M191.6 74.8h1.25M194.1 86.2h1.25M197.4 70.4h1.25M190.9 74.5h1.25M201.2 74.8h1.25M194.1 81.2h1.25M183.3 84.1h1.25M188.0 79.1h1.25M193.9 78.6h1.25M187.5 71.5h1.25M185.2 85.9h1.25M189.8 64.0h1.25M194.7 80.1h1.25M191.2 87.0h1.25M196.5 78.3h1.25M200.5 70.7h1.25M185.4 80.2h1.25M193.4 77.5h1.25M197.0 84.0h1.25M202.5 77.4h1.25M196.0 69.2h1.25M195.7 73.7h1.25M196.4 77.2h1.25M200.2 86.0h1.25M189.3 78.9h1.25M192.5 81.9h1.25M189.0 72.8h1.25M196.9 74.5h1.25M189.8 83.8h1.25M194.7 79.5h1.25M195.6 76.4h1.25M189.2 89.1h1.25M184.0 83.3h1.25M187.5 75.2h1.25M186.0 80.9h1.25M197.0 69.4h1.25M182.8 71.0h1.25M202.9 74.4h1.25M191.5 78.2h1.25M206.0 75.6h1.25M189.6 85.6h1.25M199.9 74.4h1.25M185.3 82.4h1.25M191.7 74.9h1.25M188.3 80.0h1.25M188.4 70.9h1.25M203.9 73.0h1.25M187.5 88.9h1.25M183.1 82.9h1.25M193.8 78.9h1.25M199.1 83.1h1.25M196.7 69.1h1.25M191.3 73.4h1.25M180.7 74.7h1.25M189.8 86.8h1.25M195.7 84.5h1.25M181.1 90.2h1.25M190.0 82.9h1.25M187.7 78.6h1.25M198.0 76.5h1.25M198.2 78.7h1.25M186.6 80.2h1.25M190.6 80.0h1.25M197.0 81.4h1.25M192.8 79.0h1.25M204.1 70.5h1.25M197.9 69.4h1.25M190.7 92.5h1.25M189.5 71.4h1.25M188.7 78.5h1.25M185.5 74.7h1.25M192.2 89.3h1.25M196.6 67.9h1.25M198.3 77.2h1.25M202.7 68.9h1.25M190.4 74.0h1.25M181.5 74.4h1.25M196.1 68.3h1.25M187.3 80.3h1.25M198.1 75.6h1.25M192.2 73.3h1.25M194.9 77.8h1.25M180.1 87.5h1.25M190.2 78.9h1.25M199.0 82.4h1.25M190.7 84.5h1.25M191.3 72.8h1.25M189.6 78.6h1.25M197.5 77.8h1.25M195.5 69.5h1.25M187.9 81.8h1.25M185.7 78.4h1.25M186.0 79.2h1.25M188.3 87.9h1.25M195.4 86.2h1.25M188.1 77.7h1.25M185.6 87.3h1.25M186.6 85.0h1.25M183.1 81.0h1.25M193.3 66.9h1.25M181.1 75.0h1.25M195.8 64.3h1.25M192.5 81.2h1.25M199.1 77.2h1.25M194.9 84.5h1.25M184.9 80.6h1.25M190.5 78.8h1.25M190.5 81.5h1.25M194.6 81.2h1.25M194.5 81.5h1.25M191.3 78.1h1.25M191.0 86.6h1.25M188.2 87.0h1.25M193.8 78.2h1.25M184.9 72.9h1.25M203.3 78.5h1.25M181.9 67.8h1.25M193.3 78.5h1.25M206.5 80.7h1.25M189.4 87.1h1.25M194.8 79.3h1.25M189.6 84.4h1.25M196.1 75.9h1.25M192.5 80.2h1.25M198.2 74.2h1.25M192.9 79.3h1.25M185.8 74.2h1.25M190.6 85.4h1.25M198.4 71.3h1.25M194.7 72.5h1.25M189.0 85.3h1.25M182.6 88.5h1.25M198.1 73.1h1.25M210.8 72.6h1.25M192.5 81.1h1.25M188.3 75.8h1.25M189.9 74.6h1.25M195.9 76.7h1.25M204.2 77.9h1.25M200.5 75.6h1.25M190.8 70.1h1.25M190.9 80.3h1.25M193.1 76.3h1.25M196.9 76.1h1.25M194.7 75.2h1.25M181.9 78.2h1.25M192.6 72.1h1.25M191.3 68.5h1.25M194.2 76.5h1.25M187.0 70.9h1.25M191.5 83.2h1.25M188.3 73.9h1.25M203.6 80.1h1.25M185.5 87.5h1.25M201.4 77.2h1.25M197.5 84.1h1.25M196.8 76.0h1.25M196.1 78.8h1.25M198.8 77.3h1.25M191.0 72.0h1.25M190.3 80.8h1.25M202.6 66.5h1.25M192.5 78.3h1.25M180.1 84.9h1.25M186.2 70.8h1.25M197.5 67.8h1.25M192.2 75.7h1.25M191.8 82.9h1.25M186.7 81.5h1.25M187.2 76.9h1.25M192.3 80.7h1.25M183.0 62.8h1.25M205.0 83.3h1.25M190.5 74.3h1.25M195.8 81.7h1.25M189.9 78.0h1.25M197.6 69.6h1.25M199.6 72.4h1.25M188.6 88.4h1.25M191.7 70.5h1.25M200.9 71.7h1.25M192.4 82.8h1.25M186.2 74.3h1.25M206.0 71.5h1.25M203.4 79.8h1.25M198.8 62.4h1.25M198.0 73.3h1.25M187.0 78.3h1.25M184.6 75.2h1.25M190.4 70.0h1.25M192.8 71.8h1.25M203.4 91.1h1.25M198.4 69.3h1.25M189.2 80.6h1.25M181.5 80.3h1.25M185.6 77.9h1.25M188.9 81.6h1.25M188.9 76.0h1.25M197.5 63.6h1.25M187.8 79.5h1.25M183.8 75.7h1.25M192.8 83.8h1.25M204.5 67.1h1.25M180.1 83.8h1.25M187.5 82.1h1.25M186.6 79.8h1.25M194.6 71.5h1.25M192.0 73.0h1.25M200.8 76.6h1.25M190.8 69.6h1.25M198.8 74.1h1.25M205.3 67.7h1.25M193.4 85.2h1.25M191.5 71.8h1.25M192.0 78.4h1.25M186.0 83.8h1.25M189.6 70.0h1.25M193.6 76.3h1.25M186.8 83.3h1.25M190.1 88.3h1.25M192.0 69.0h1.25M194.6 73.0h1.25M198.9 75.6h1.25M193.4 84.9h1.25M189.3 76.9h1.25M186.9 75.8h1.25M188.8 75.0h1.25M180.1 73.1h1.25M191.3 84.6h1.25M193.7 78.1h1.25M196.0 82.9h1.25M184.1 85.4h1.25M181.8 82.9h1.25M191.8 80.8h1.25M199.8 72.0h1.25M198.5 76.7h1.25M190.2 66.2h1.25M198.9 70.7h1.25M192.0 79.9h1.25M199.0 76.2h1.25M194.2 73.5h1.25M186.8 81.4h1.25M204.3 70.3h1.25M190.9 75.7h1.25M183.6 81.2h1.25M189.5 80.8h1.25M180.1 83.5h1.25M192.6 79.3h1.25M185.3 81.0h1.25M200.6 79.0h1.25M195.5 76.0h1.25M194.0 78.2h1.25M197.0 68.4h1.25M193.0 77.2h1.25M188.7 84.4h1.25M189.2 79.7h1.25M183.8 81.1h1.25M187.3 71.1h1.25M200.7 74.9h1.25M185.7 70.0h1.25M191.7 76.0h1.25M199.2 72.6h1.25M193.7 75.7h1.25M185.3 79.5h1.25M185.9 81.4h1.25M198.3 80.5h1.25M188.9 77.4h1.25M193.7 77.2h1.25M202.0 72.2h1.25M187.6 72.3h1.25M200.2 75.5h1.25M206.5 78.6h1.25M198.4 72.4h1.25M204.8 64.0h1.25M196.7 76.1h1.25M190.1 76.7h1.25M184.4 90.5h1.25M197.3 74.5h1.25M204.6 60.3h1.25M184.1 81.0h1.25M187.4 73.3h1.25M188.8 81.1h1.25M195.8 80.2h1.25M187.1 87.9h1.25M202.5 69.5h1.25M186.8 73.8h1.25M198.9 67.1h1.25M193.6 74.9h1.25M196.6 73.5h1.25M189.8 77.0h1.25M188.3 76.4h1.25M200.2 68.7h1.25M197.9 90.9h1.25M201.2 64.1h1.25M197.7 73.2h1.25M197.2 72.7h1.25M184.7 78.8h1.25M198.7 82.2h1.25M182.0 75.1h1.25M180.1 84.5h1.25M189.3 76.6h1.25M192.1 71.8h1.25M186.4 76.9h1.25M196.6 68.3h1.25M185.0 69.3h1.25M185.8 78.0h1.25M193.8 85.4h1.25M192.8 80.2h1.25M192.2 72.0h1.25M201.1 66.5h1.25M186.4 65.3h1.25M196.6 83.6h1.25M194.6 83.0h1.25M190.0 71.6h1.25M190.8 75.8h1.25M201.8 74.8h1.25M189.1 75.2h1.25M190.8 77.2h1.25M195.1 85.7h1.25M191.1 69.3h1.25M194.2 92.4h1.25M192.1 70.4h1.25M198.3 70.7h1.25M190.9 76.4h1.25M185.2 78.0h1.25M190.7 69.2h1.25M189.4 87.7h1.25M182.7 80.3h1.25M186.7 84.6h1.25M190.9 82.6h1.25M193.3 74.6h1.25M198.0 67.2h1.25M189.2 71.5h1.25M196.5 82.1h1.25M191.3 70.9h1.25M197.3 73.3h1.25M184.2 86.2h1.25M187.5 72.6h1.25M193.0 80.9h1.25M194.3 74.8h1.25M198.3 76.3h1.25M187.1 85.0h1.25M190.0 79.7h1.25M192.7 70.9h1.25M194.8 75.3h1.25M196.1 80.6h1.25M194.1 86.1h1.25M187.6 79.9h1.25M185.9 71.5h1.25M181.9 83.1h1.25M201.0 81.6h1.25M195.4 69.4h1.25M190.5 74.5h1.25M192.8 78.3h1.25M188.8 79.8h1.25M187.6 79.2h1.25M193.6 84.3h1.25M200.1 67.6h1.25M184.5 71.0h1.25M208.7 63.0h1.25M198.4 76.7h1.25M192.3 76.9h1.25M194.4 75.6h1.25M194.9 70.6h1.25M187.5 80.0h1.25M189.8 79.5h1.25M190.5 71.8h1.25M185.1 78.2h1.25M184.8 73.2h1.25M192.4 79.8h1.25M189.6 67.9h1.25M193.5 76.6h1.25M192.4 71.9h1.25M187.4 81.1h1.25M197.5 78.0h1.25M189.9 74.4h1.25M186.7 80.0h1.25M185.3 79.1h1.25M195.2 83.1h1.25M191.9 81.1h1.25M193.2 82.4h1.25M193.5 79.1h1.25M200.5 82.9h1.25M199.7 75.7h1.25M199.1 74.1h1.25M181.8 79.6h1.25M180.1 82.2h1.25M197.5 74.1h1.25M201.3 75.1h1.25M180.1 69.6h1.25M196.7 67.4h1.25M186.4 75.2h1.25M198.1 75.7h1.25M198.3 73.2h1.25M202.7 73.9h1.25M181.1 79.8h1.25M197.9 59.2h1.25M185.5 79.6h1.25M182.3 77.3h1.25M196.5 71.8h1.25M186.3 81.4h1.25M198.5 72.9h1.25M193.7 79.1h1.25M191.0 73.7h1.25M183.3 68.0h1.25M195.5 82.6h1.25M186.2 76.1h1.25M204.7 74.1h1.25M194.1 73.6h1.25M189.1 75.8h1.25M197.6 82.5h1.25M201.7 81.3h1.25M191.6 79.9h1.25M191.0 84.9h1.25M189.1 84.1h1.25M201.1 79.9h1.25M190.1 73.1h1.25M190.3 83.7h1.25M192.8 77.0h1.25M196.4 86.7h1.25M188.1 72.0h1.25M197.0 75.9h1.25M190.9 73.5h1.25M191.4 83.2h1.25M194.4 76.9h1.25M193.3 71.5h1.25M189.1 70.3h1.25M190.4 78.2h1.25M195.2 74.7h1.25M189.0 74.8h1.25M192.4 71.0h1.25M180.1 77.3h1.25M195.8 79.3h1.25M194.2 67.8h1.25M190.7 65.2h1.25M185.7 81.4h1.25M195.6 68.4h1.25M190.4 75.7h1.25M198.7 73.4h1.25M195.4 70.1h1.25M189.0 74.1h1.25M189.8 73.9h1.25M180.1 87.5h1.25M186.0 76.0h1.25M197.6 69.7h1.25M193.0 72.7h1.25M195.9 78.7h1.25M190.4 92.4h1.25M198.9 82.5h1.25M181.8 81.7h1.25M194.6 72.7h1.25M182.3 84.6h1.25M198.8 79.2h1.25M192.9 73.9h1.25M190.2 78.9h1.25M200.0 58.8h1.25M183.9 73.5h1.25M186.3 81.0h1.25M192.4 77.4h1.25M198.9 63.7h1.25M198.7 70.8h1.25M184.2 81.9h1.25M185.2 68.4h1.25M193.6 72.4h1.25M195.7 76.4h1.25M185.6 82.0h1.25M185.0 71.5h1.25M189.7 78.3h1.25M202.5 67.8h1.25M199.5 75.6h1.25M190.6 77.8h1.25M183.5 83.1h1.25M194.2 73.8h1.25M188.9 72.8h1.25M191.3 79.7h1.25M189.5 67.1h1.25M191.4 86.2h1.25M191.7 83.6h1.25M184.9 85.8h1.25M183.9 83.4h1.25M196.9 71.8h1.25M195.8 76.4h1.25M185.0 86.8h1.25M195.0 89.2h1.25M183.8 85.6h1.25M203.5 80.8h1.25M191.1 64.5h1.25M206.6 70.8h1.25M198.8 68.2h1.25M197.8 80.6h1.25M199.4 69.9h1.25M196.0 83.2h1.25M194.6 76.3h1.25M197.8 79.1h1.25M186.3 79.8h1.25M184.2 73.9h1.25M188.8 73.7h1.25M198.1 78.2h1.25M182.4 88.1h1.25M191.8 74.8h1.25M188.0 79.8h1.25M193.1 87.2h1.25M187.8 78.4h1.25M186.0 78.0h1.25M205.3 72.2h1.25M187.6 91.2h1.25M181.8 62.6h1.25M198.3 75.4h1.25M199.4 79.8h1.25M198.2 74.5h1.25M192.2 78.7h1.25M199.0 69.3h1.25M189.6 76.5h1.25M197.1 68.3h1.25M198.4 73.1h1.25M188.7 82.6h1.25M189.9 77.7h1.25M184.3 70.4h1.25M195.3 80.2h1.25M197.6 76.4h1.25M200.1 69.1h1.25M195.0 77.3h1.25M199.8 85.4h1.25M203.0 55.2h1.25M196.1 73.4h1.25M193.2 70.7h1.25M195.3 63.6h1.25M202.4 77.7h1.25M206.6 82.5h1.25M186.0 80.7h1.25M192.1 84.3h1.25M192.4 64.5h1.25M181.5 80.3h1.25M190.6 83.3h1.25M203.2 70.5h1.25M194.3 84.0h1.25M194.2 78.0h1.25M189.6 77.5h1.25M187.7 88.3h1.25M186.0 85.5h1.25M183.0 78.8h1.25M199.2 77.0h1.25M192.1 73.9h1.25M185.8 71.4h1.25M193.4 79.1h1.25M189.9 70.7h1.25M185.2 86.8h1.25M195.4 69.1h1.25M194.1 61.9h1.25M198.9 63.8h1.25M193.0 81.3h1.25M196.7 79.7h1.25M185.3 75.1h1.25M197.7 73.3h1.25M193.0 83.9h1.25M192.1 62.4h1.25M181.2 85.6h1.25M187.5 81.7h1.25M204.5 74.8h1.25M195.5 84.4h1.25M185.7 76.0h1.25M196.2 80.1h1.25M196.5 73.9h1.25M182.0 78.0h1.25M194.9 75.5h1.25M187.2 81.2h1.25M198.0 75.2h1.25M197.0 75.2h1.25M189.8 77.8h1.25M192.4 85.4h1.25M200.8 72.2h1.25M192.1 74.9h1.25M196.3 81.6h1.25M191.9 74.9h1.25M198.0 70.0h1.25M188.8 73.4h1.25M195.6 77.1h1.25M184.3 82.9h1.25M186.0 90.6h1.25M190.2 83.6h1.25M189.5 75.3h1.25M192.9 77.0h1.25M197.1 83.7h1.25M184.2 89.3h1.25M184.7 79.8h1.25M201.8 67.1h1.25M196.2 83.8h1.25M181.1 90.5h1.25M189.8 88.1h1.25M194.2 81.6h1.25M196.0 85.1h1.25M189.0 63.8h1.25M195.0 81.6h1.25M184.9 80.8h1.25M187.1 77.9h1.25M186.1 78.3h1.25M201.0 75.7h1.25M193.1 66.0h1.25M188.6 82.0h1.25M208.1 70.4h1.25M196.7 69.8h1.25M200.2 84.5h1.25M195.7 80.8h1.25M194.8 78.8h1.25M199.3 70.6h1.25M191.6 70.9h1.25M194.5 83.0h1.25M188.7 78.9h1.25M184.5 77.3h1.25M192.5 81.2h1.25M191.7 76.3h1.25M189.5 76.2h1.25M196.0 79.3h1.25M206.4 72.6h1.25M190.7 80.7h1.25M195.7 71.1h1.25M197.7 77.1h1.25M193.3 85.0h1.25M184.5 70.5h1.25M195.7 71.4h1.25M185.1 73.7h1.25M193.5 76.7h1.25M194.5 73.8h1.25M180.8 88.7h1.25M183.3 88.1h1.25M197.8 75.9h1.25M194.1 75.1h1.25M204.7 67.4h1.25M199.3 78.5h1.25M190.3 76.4h1.25M197.6 72.1h1.25M191.3 72.5h1.25M182.5 86.0h1.25M193.2 87.0h1.25M192.6 81.5h1.25M193.3 83.2h1.25M191.3 81.8h1.25M189.8 76.1h1.25M192.1 72.7h1.25M196.1 82.9h1.25M194.8 70.2h1.25M197.0 72.0h1.25M186.0 81.0h1.25M182.4 70.2h1.25M194.8 78.1h1.25M189.4 68.1h1.25M189.6 79.0h1.25M181.2 83.9h1.25M191.7 74.9h1.25M185.2 71.0h1.25M187.9 86.1h1.25M192.1 74.7h1.25M191.0 81.0h1.25M193.8 74.4h1.25M189.1 77.3h1.25M192.4 73.9h1.25M189.4 70.6h1.25M198.3 73.8h1.25M188.2 80.8h1.25M204.6 54.1h1.25M196.4 85.2h1.25M185.6 82.3h1.25M192.5 73.8h1.25M184.6 86.5h1.25M200.3 76.0h1.25M180.9 73.9h1.25M199.1 77.7h1.25M183.3 77.1h1.25M195.5 80.3h1.25M186.8 75.1h1.25M195.6 78.7h1.25M186.4 76.1h1.25M181.5 89.6h1.25M198.5 68.7h1.25M203.3 61.3h1.25M201.2 85.8h1.25M192.6 79.6h1.25M189.3 81.8h1.25M200.1 79.3h1.25M195.3 85.5h1.25M183.8 79.0h1.25M193.1 73.7h1.25M195.8 77.1h1.25M190.3 73.7h1.25M190.0 89.5h1.25M188.3 73.8h1.25M192.6 71.7h1.25M193.1 69.6h1.25M192.1 79.7h1.25M186.8 76.2h1.25M197.9 86.1h1.25M189.7 77.2h1.25M180.1 92.0h1.25M198.5 77.6h1.25M194.4 72.7h1.25M185.1 80.3h1.25M202.0 72.8h1.25M183.2 76.7h1.25M197.8 79.7h1.25M194.0 81.8h1.25M190.5 74.7h1.25M193.9 73.8h1.25M181.7 68.8h1.25M201.6 68.3h1.25M186.6 78.6h1.25M188.3 73.9h1.25M199.5 71.5h1.25M190.7 75.5h1.25M198.8 71.6h1.25M191.6 76.5h1.25M191.5 75.8h1.25M191.1 81.6h1.25M188.6 91.4h1.25M188.0 73.0h1.25M187.0 78.5h1.25M180.1 79.6h1.25M199.8 80.9h1.25M194.8 80.1h1.25M187.3 78.9h1.25M185.1 78.4h1.25M201.4 83.4h1.25M194.5 77.9h1.25M202.2 77.0h1.25M194.1 70.3h1.25M191.8 71.1h1.25M198.1 69.4h1.25M194.3 74.6h1.25M193.8 69.3h1.25M193.8 75.7h1.25M196.6 72.6h1.25M197.2 79.9h1.25M191.0 82.1h1.25M185.1 79.9h1.25M186.4 84.5h1.25M196.1 76.3h1.25M203.8 78.3h1.25M185.7 73.1h1.25M195.9 70.0h1.25M196.6 76.1h1.25M191.6 85.1h1.25M186.3 76.5h1.25M191.2 87.0h1.25M199.7 65.8h1.25M191.2 72.7h1.25M188.9 83.9h1.25M187.7 73.1h1.25M198.9 63.9h1.25M193.1 69.9h1.25M197.1 61.4h1.25M195.6 76.2h1.25M194.0 73.6h1.25M192.4 76.4h1.25M183.6 80.0h1.25M186.6 73.3h1.25M189.2 85.3h1.25M187.9 82.2h1.25M188.3 71.9h1.25M195.6 83.4h1.25M212.0 69.8h1.25M198.0 74.8h1.25M195.7 72.5h1.25M187.7 80.4h1.25M183.7 86.0h1.25M186.9 78.0h1.25M193.3 73.2h1.25M195.8 85.5h1.25M187.5 72.7h1.25M190.4 69.2h1.25M190.0 79.5h1.25M196.2 70.6h1.25M189.4 83.3h1.25M197.8 77.0h1.25M188.4 77.0h1.25M198.1 84.7h1.25M201.3 75.4h1.25M195.2 78.7h1.25M191.4 80.1h1.25M193.1 76.4h1.25M190.6 82.0h1.25M201.0 71.6h1.25M189.1 86.7h1.25M184.7 71.6h1.25M191.8 82.4h1.25M181.8 80.8h1.25M191.5 74.1h1.25M187.4 69.6h1.25M193.1 73.2h1.25M199.8 80.9h1.25M193.8 72.4h1.25M184.8 80.5h1.25M188.1 84.5h1.25M192.8 71.4h1.25M190.9 77.0h1.25M189.8 75.4h1.25M187.0 77.5h1.25M194.0 74.0h1.25M197.3 69.7h1.25M188.1 70.8h1.25M205.5 72.6h1.25M193.1 75.1h1.25M201.1 79.5h1.25M186.9 69.5h1.25M186.4 75.8h1.25M189.7 78.6h1.25M187.8 84.9h1.25M199.3 80.2h1.25M180.1 88.4h1.25M188.3 83.7h1.25M185.7 74.8h1.25M202.2 77.4h1.25M189.6 75.9h1.25M187.9 90.3h1.25M185.2 77.2h1.25M197.7 82.4h1.25M196.6 61.4h1.25M199.7 76.7h1.25M192.9 80.0h1.25M191.7 78.5h1.25M199.4 96.1h1.25M194.7 84.2h1.25M200.2 80.8h1.25M192.5 78.3h1.25M191.8 72.2h1.25M191.4 71.0h1.25M205.4 77.5h1.25M193.7 83.0h1.25M184.6 74.6h1.25M188.9 74.1h1.25M195.8 72.8h1.25M191.8 78.4h1.25M190.6 76.8h1.25M196.7 81.9h1.25M185.5 92.2h1.25M194.8 77.5h1.25M191.2 85.7h1.25M190.7 87.8h1.25M189.2 78.2h1.25M203.8 73.5h1.25M186.1 77.1h1.25M190.8 75.8h1.25M200.8 81.4h1.25M202.9 84.2h1.25M190.3 73.9h1.25M200.4 86.6h1.25M194.9 78.2h1.25M205.7 68.0h1.25M198.7 69.9h1.25M184.6 83.0h1.25M187.9 79.9h1.25M195.0 76.4h1.25M187.2 82.9h1.25M188.9 73.5h1.25M201.2 69.1h1.25M194.2 77.2h1.25M190.1 85.3h1.25M197.6 73.6h1.25M190.0 77.6h1.25M200.6 62.9h1.25M195.5 79.3h1.25M188.8 70.4h1.25M185.4 83.7h1.25M196.5 76.6h1.25M188.6 80.1h1.25M193.2 71.9h1.25M187.8 80.4h1.25M182.9 72.4h1.25M193.4 73.0h1.25M187.6 67.4h1.25M200.3 80.4h1.25M188.9 76.5h1.25M191.0 68.3h1.25M188.3 75.1h1.25M197.6 78.1h1.25M189.9 83.8h1.25M198.5 66.5h1.25M182.1 78.3h1.25M186.0 83.0h1.25M186.1 80.0h1.25M194.5 67.2h1.25M183.9 82.9h1.25M201.5 73.6h1.25M199.5 68.4h1.25M191.7 79.5h1.25M189.9 78.5h1.25M205.5 65.3h1.25M191.8 75.8h1.25M192.7 82.0h1.25M196.8 83.3h1.25M182.4 88.7h1.25M189.3 70.2h1.25M183.0 73.1h1.25M187.5 88.7h1.25M197.5 76.6h1.25M192.7 68.3h1.25M184.8 76.8h1.25M190.7 77.5h1.25M185.7 85.7h1.25M187.6 87.8h1.25M191.9 68.6h1.25M203.0 66.3h1.25M203.3 59.8h1.25M202.1 62.3h1.25M185.6 77.0h1.25M193.5 72.2h1.25M185.6 72.6h1.25M191.5 76.8h1.25M193.9 67.8h1.25M189.0 85.3h1.25M187.2 75.7h1.25M189.3 70.1h1.25M199.5 66.0h1.25M190.8 69.0h1.25M199.8 71.8h1.25M188.9 68.4h1.25M180.1 80.3h1.25M187.6 73.9h1.25M189.3 80.1h1.25M187.1 81.3h1.25M201.5 78.0h1.25M191.9 75.4h1.25M190.5 73.0h1.25M196.8 84.4h1.25M186.0 85.0h1.25M191.9 82.4h1.25M201.0 78.8h1.25M184.5 71.1h1.25M186.0 76.2h1.25M193.4 80.4h1.25M195.0 75.9h1.25M180.6 78.1h1.25M201.4 66.6h1.25M201.2 82.8h1.25M189.4 83.3h1.25M185.8 68.8h1.25M197.8 68.6h1.25M189.9 75.7h1.25M194.4 79.5h1.25M194.4 71.2h1.25M201.7 75.9h1.25M204.7 68.4h1.25M181.1 72.7h1.25M198.8 77.8h1.25M194.8 69.6h1.25M197.5 80.8h1.25M186.8 76.8h1.25M193.8 63.8h1.25M182.8 69.9h1.25M197.5 75.4h1.25M197.3 68.9h1.25M195.8 78.3h1.25M199.4 69.6h1.25M193.1 76.2h1.25M202.2 70.1h1.25M196.2 71.5h1.25M203.8 79.0h1.25M200.0 84.2h1.25M194.6 72.0h1.25M183.7 82.2h1.25M194.5 82.6h1.25M191.8 71.8h1.25M197.4 78.6h1.25M195.0 83.0h1.25M192.0 73.1h1.25M197.0 69.4h1.25M195.0 72.8h1.25M194.5 68.9h1.25M197.5 78.2h1.25M192.0 72.4h1.25M192.2 86.2h1.25M193.0 73.8h1.25M195.8 61.4h1.25M197.8 81.0h1.25M186.3 88.4h1.25M196.7 75.7h1.25M199.5 68.6h1.25M198.4 70.3h1.25M193.2 91.4h1.25M192.8 78.8h1.25M198.3 65.6h1.25M189.1 88.1h1.25M189.9 82.1h1.25M183.3 83.5h1.25M203.7 85.6h1.25M198.4 73.6h1.25M216.0 71.6h1.25M212.8 67.5h1.25M214.6 70.2h1.25M217.7 61.7h1.25M211.6 68.1h1.25M206.0 70.8h1.25M216.4 67.7h1.25M208.6 73.7h1.25M208.3 65.3h1.25M211.4 69.3h1.25M212.5 70.4h1.25M214.7 71.0h1.25M215.1 71.7h1.25M217.5 59.1h1.25M222.5 72.5h1.25M213.0 68.2h1.25M208.2 69.6h1.25M208.9 70.9h1.25M195.0 81.0h1.25M209.4 72.4h1.25M204.5 69.4h1.25M200.7 72.7h1.25M204.3 73.2h1.25M204.9 76.9h1.25M205.3 70.9h1.25M214.1 69.7h1.25M213.8 67.0h1.25M211.4 68.3h1.25M205.8 70.7h1.25M209.1 68.3h1.25M226.3 64.4h1.25M201.9 72.5h1.25M204.4 73.8h1.25M222.0 67.8h1.25M227.5 61.3h1.25M203.3 70.0h1.25M196.5 74.9h1.25M199.9 74.4h1.25M204.8 72.5h1.25M191.2 80.6h1.25M202.8 75.8h1.25M208.7 70.0h1.25M208.3 74.0h1.25M203.5 75.0h1.25M212.4 71.1h1.25M218.8 65.8h1.25M226.8 59.9h1.25M210.0 65.9h1.25M221.1 67.6h1.25M207.4 74.8h1.25M201.2 76.5h1.25M203.9 74.2h1.25M197.6 71.8h1.25M212.9 72.0h1.25M203.2 73.9h1.25M213.9 70.9h1.25M210.2 66.8h1.25M199.9 74.1h1.25M206.7 67.0h1.25M232.3 60.7h1.25M193.4 71.5h1.25M215.2 69.5h1.25M208.6 71.2h1.25M209.3 67.7h1.25M202.1 77.1h1.25M204.3 66.1h1.25M196.0 77.0h1.25M208.0 77.1h1.25M199.0 75.4h1.25M201.8 76.1h1.25M215.2 68.2h1.25M223.1 59.1h1.25M210.2 74.5h1.25M219.8 69.1h1.25M211.0 75.3h1.25M216.7 76.0h1.25M206.0 71.6h1.25M205.8 66.8h1.25M206.8 70.9h1.25M205.5 71.6h1.25M229.9 52.6h1.25M214.1 64.4h1.25M201.4 71.2h1.25M206.2 71.6h1.25M197.3 76.8h1.25M207.3 68.5h1.25M207.9 73.4h1.25M212.1 71.4h1.25M218.8 65.3h1.25M206.4 71.1h1.25M200.7 76.8h1.25M214.3 65.3h1.25M209.5 68.3h1.25M212.3 65.7h1.25M203.9 73.8h1.25M208.7 73.4h1.25M229.7 60.7h1.25M213.1 70.8h1.25M206.6 73.5h1.25M197.0 70.9h1.25M220.7 68.7h1.25M197.1 74.1h1.25M201.8 76.9h1.25M221.1 63.0h1.25M207.3 71.4h1.25M195.8 79.1h1.25M201.9 72.3h1.25M219.9 63.6h1.25M200.6 80.5h1.25M216.9 66.4h1.25M232.8 63.0h1.25M222.0 67.1h1.25M197.8 72.2h1.25M218.5 68.3h1.25M198.1 74.5h1.25M219.5 66.6h1.25M198.3 72.7h1.25M218.3 69.7h1.25M207.6 68.9h1.25M210.8 71.3h1.25M202.0 75.1h1.25M208.4 65.9h1.25M206.4 73.6h1.25M208.6 71.0h1.25M210.4 72.9h1.25M212.0 65.6h1.25M202.3 72.9h1.25M213.2 70.0h1.25M212.4 68.9h1.25M221.3 68.6h1.25M223.2 67.8h1.25M220.2 63.1h1.25M215.0 70.5h1.25M208.1 69.7h1.25M222.1 67.3h1.25M210.6 71.2h1.25M211.3 68.0h1.25M205.1 73.5h1.25M201.0 75.3h1.25M223.2 66.1h1.25M209.6 69.7h1.25M235.5 55.1h1.25M208.2 69.2h1.25M208.9 72.6h1.25M209.4 67.7h1.25M207.1 72.7h1.25M210.1 64.4h1.25M221.7 66.9h1.25M210.4 64.6h1.25M212.0 69.4h1.25M205.5 73.7h1.25M206.3 69.7h1.25M223.8 61.5h1.25M197.1 71.9h1.25M201.1 70.0h1.25M221.6 64.8h1.25M217.1 66.0h1.25M220.4 65.5h1.25M201.6 69.9h1.25M206.4 73.1h1.25M201.2 67.6h1.25M201.6 70.8h1.25M212.1 67.7h1.25M218.1 63.5h1.25M216.9 67.2h1.25M204.1 72.1h1.25M204.2 73.4h1.25M199.4 71.3h1.25M209.3 70.3h1.25M209.9 71.2h1.25M204.0 73.5h1.25M205.9 71.2h1.25M211.1 67.7h1.25M202.5 76.1h1.25M199.3 73.9h1.25M215.1 75.1h1.25M199.9 70.7h1.25M204.9 73.7h1.25M213.2 67.7h1.25M217.1 65.0h1.25M215.7 63.8h1.25M212.8 66.1h1.25M205.9 75.3h1.25M211.5 68.3h1.25M205.2 72.1h1.25M190.6 71.6h1.25M229.0 57.5h1.25M207.6 73.7h1.25M214.6 67.9h1.25M213.6 69.8h1.25M190.9 72.6h1.25M193.2 81.6h1.25M213.8 69.8h1.25M211.3 70.9h1.25M207.5 73.7h1.25M219.7 67.2h1.25M215.7 66.5h1.25M203.3 72.1h1.25M208.4 72.0h1.25M208.2 67.4h1.25M206.6 72.4h1.25M190.4 76.6h1.25M201.1 73.3h1.25M215.0 72.9h1.25M212.5 71.4h1.25M208.2 68.3h1.25M211.7 68.0h1.25M214.5 73.7h1.25M204.4 67.7h1.25M195.0 78.7h1.25M204.7 77.6h1.25M217.7 67.5h1.25M211.1 68.6h1.25M213.0 69.1h1.25M201.4 76.8h1.25M209.3 74.2h1.25M229.8 60.6h1.25M207.7 72.4h1.25M198.5 76.4h1.25M198.5 75.4h1.25M204.5 73.3h1.25M212.9 70.4h1.25M204.3 70.4h1.25M201.9 73.5h1.25M206.1 64.0h1.25M208.1 65.4h1.25M202.0 71.8h1.25M213.7 67.9h1.25M221.4 64.8h1.25M220.3 64.6h1.25M204.5 76.9h1.25M197.9 75.5h1.25M218.9 67.4h1.25M196.0 74.5h1.25M198.6 75.4h1.25M232.6 59.4h1.25M195.3 79.7h1.25M201.7 75.6h1.25M221.6 57.4h1.25M218.7 64.8h1.25M217.8 64.0h1.25M205.4 77.0h1.25M223.2 60.5h1.25M210.8 69.2h1.25M233.6 67.6h1.25M204.7 73.9h1.25M226.9 62.9h1.25M220.8 66.5h1.25M207.8 71.5h1.25M205.9 70.5h1.25M205.9 65.0h1.25M203.9 72.7h1.25M189.0 80.9h1.25M231.9 64.2h1.25M215.1 64.3h1.25M212.2 73.1h1.25M193.4 77.2h1.25M208.7 71.6h1.25M215.2 66.2h1.25M211.4 69.4h1.25M199.0 69.8h1.25M206.7 73.0h1.25M198.2 74.9h1.25M213.6 68.8h1.25M214.4 66.3h1.25M215.2 65.7h1.25M218.3 64.3h1.25M216.1 65.0h1.25M222.8 66.8h1.25M207.7 71.2h1.25M220.3 67.1h1.25M212.3 68.8h1.25M209.5 70.1h1.25M201.1 72.1h1.25M216.1 67.6h1.25M212.8 70.5h1.25M204.3 77.2h1.25M202.0 73.3h1.25M211.3 68.4h1.25M200.4 74.3h1.25M216.3 64.0h1.25M203.0 71.0h1.25M233.5 60.9h1.25M208.4 73.3h1.25M202.6 75.4h1.25M207.1 71.8h1.25M214.4 61.7h1.25M227.3 62.9h1.25M203.6 73.5h1.25M217.5 68.5h1.25M210.5 70.0h1.25M211.9 65.8h1.25M219.2 66.9h1.25M198.7 81.2h1.25M212.3 70.5h1.25M211.2 70.2h1.25M207.8 74.1h1.25M221.9 69.8h1.25M210.1 67.3h1.25M189.7 77.6h1.25M180.6 90.2h1.25M185.8 98.0h1.25M198.5 95.1h1.25M196.9 100.3h1.25M185.1 97.6h1.25M186.4 97.7h1.25M198.6 99.3h1.25M197.7 91.2h1.25M182.5 100.9h1.25M187.0 95.0h1.25M187.3 100.2h1.25M186.9 97.1h1.25M182.7 90.3h1.25M192.5 92.3h1.25M187.7 95.0h1.25M186.9 88.6h1.25M181.2 97.2h1.25M193.2 89.9h1.25M184.1 96.9h1.25M188.8 104.2h1.25M184.9 103.2h1.25M180.2 98.9h1.25M196.9 89.7h1.25M186.8 95.3h1.25M181.3 93.8h1.25M185.3 91.8h1.25M182.0 102.3h1.25M200.1 94.3h1.25M185.5 92.8h1.25M181.9 100.9h1.25M195.4 91.5h1.25M189.4 99.6h1.25M182.5 93.5h1.25M188.3 98.1h1.25M181.9 95.2h1.25M192.8 102.8h1.25M184.9 92.0h1.25M194.2 103.0h1.25M180.9 89.9h1.25M183.1 89.3h1.25M185.4 104.2h1.25M198.7 95.0h1.25M181.0 97.1h1.25M205.3 90.7h1.25M180.3 103.6h1.25M181.9 96.4h1.25M186.3 101.2h1.25M186.8 98.9h1.25M185.9 91.8h1.25M181.4 98.8h1.25M190.2 92.5h1.25M192.0 99.1h1.25M189.6 97.0h1.25M197.7 89.6h1.25M184.3 93.8h1.25M184.2 90.9h1.25M182.8 93.5h1.25M194.2 101.4h1.25M181.2 88.7h1.25M202.5 92.1h1.25M199.3 102.2h1.25M186.5 90.8h1.25M185.0 93.2h1.25M185.0 94.2h1.25M194.7 99.4h1.25M205.7 104.2h1.25M181.9 96.4h1.25M193.7 97.7h1.25M195.4 103.9h1.25M184.5 99.9h1.25M184.7 94.0h1.25M180.2 101.4h1.25M182.8 94.1h1.25M186.7 90.9h1.25M186.9 93.1h1.25M190.8 94.7h1.25M193.9 96.6h1.25M183.9 93.3h1.25M183.0 101.1h1.25M182.1 95.1h1.25M185.0 103.8h1.25M181.6 103.5h1.25M189.0 101.7h1.25M181.0 104.2h1.25M189.4 92.5h1.25M180.9 90.7h1.25M194.0 94.4h1.25M195.7 98.2h1.25M188.1 92.3h1.25M199.7 100.5h1.25M183.8 98.2h1.25M185.0 91.3h1.25M182.1 90.9h1.25M187.3 97.1h1.25M184.9 102.6h1.25M198.7 90.1h1.25M187.6 101.0h1.25M180.2 97.2h1.25M181.9 103.8h1.25M189.9 100.7h1.25M196.2 90.0h1.25M187.9 104.2h1.25M202.2 97.4h1.25M196.4 103.4h1.25M192.1 95.3h1.25M189.9 89.4h1.25M183.9 103.8h1.25M180.4 92.7h1.25M186.9 93.1h1.25M190.0 103.2h1.25M197.5 103.9h1.25M187.8 100.9h1.25M185.0 102.1h1.25M180.9 99.1h1.25M185.0 97.1h1.25M205.5 92.1h1.25M187.4 92.9h1.25M192.2 103.0h1.25M197.3 100.4h1.25M182.4 94.9h1.25M182.7 91.0h1.25M192.0 91.0h1.25M180.4 93.0h1.25M183.4 90.3h1.25M193.8 93.9h1.25M194.7 89.3h1.25M181.8 103.8h1.25M180.1 103.8h1.25M200.3 94.9h1.25M186.1 95.0h1.25M186.0 93.2h1.25M189.4 90.5h1.25M192.8 101.5h1.25M183.8 92.3h1.25M186.6 103.7h1.25M193.1 96.0h1.25M184.1 94.4h1.25M187.1 96.8h1.25M183.6 101.0h1.25M204.1 98.0h1.25M180.5 92.1h1.25M191.4 103.2h1.25M186.3 97.6h1.25M188.9 91.1h1.25M182.2 100.5h1.25M197.9 89.0h1.25M185.7 94.2h1.25M190.7 95.2h1.25M180.9 88.8h1.25M183.0 93.5h1.25M200.2 103.1h1.25M180.2 98.2h1.25M183.8 92.4h1.25M182.0 90.1h1.25M183.5 100.1h1.25M188.4 95.0h1.25M196.9 90.8h1.25M186.6 103.8h1.25M200.3 91.2h1.25M190.5 101.8h1.25M200.8 99.1h1.25M181.6 89.2h1.25M197.7 94.0h1.25M191.9 101.5h1.25M198.6 98.5h1.25M180.5 90.5h1.25M181.0 92.1h1.25M180.2 96.1h1.25M180.1 89.6h1.25M182.5 93.4h1.25" stroke="#000" stroke-width="1.25" fill="none"/>
<rect x="179.3" y="33.6" width="79.1" height="72.1" fill="none" stroke="#000" stroke-width="1.6"/>
<line x1="204.8" y1="33.6" x2="204.8" y2="114.7" stroke="#000" stroke-width="1.5" />
<line x1="174.70000000000002" y1="88.2" x2="258.4" y2="88.2" stroke="#000" stroke-width="1.6" />
<path d="M179.30 105.7v4.2M179.3 105.70h-4.8M185.25 105.7v2.6M179.3 100.27h-2.8M188.74 105.7v2.6M179.3 97.10h-2.8M191.21 105.7v2.6M179.3 94.85h-2.8M193.12 105.7v2.6M179.3 93.10h-2.8M194.69 105.7v2.6M179.3 91.67h-2.8M196.01 105.7v2.6M179.3 90.47h-2.8M197.16 105.7v2.6M179.3 89.42h-2.8M198.17 105.7v2.6M179.3 88.50h-2.8M199.08 105.7v4.2M179.3 87.68h-4.8M205.03 105.7v2.6M179.3 82.25h-2.8M208.51 105.7v2.6M179.3 79.07h-2.8M210.98 105.7v2.6M179.3 76.82h-2.8M212.90 105.7v2.6M179.3 75.08h-2.8M214.46 105.7v2.6M179.3 73.65h-2.8M215.79 105.7v2.6M179.3 72.44h-2.8M216.93 105.7v2.6M179.3 71.40h-2.8M217.95 105.7v2.6M179.3 70.47h-2.8M218.85 105.7v4.2M179.3 69.65h-4.8M224.80 105.7v2.6M179.3 64.22h-2.8M228.29 105.7v2.6M179.3 61.05h-2.8M230.76 105.7v2.6M179.3 58.80h-2.8M232.67 105.7v2.6M179.3 57.05h-2.8M234.24 105.7v2.6M179.3 55.62h-2.8M235.56 105.7v2.6M179.3 54.42h-2.8M236.71 105.7v2.6M179.3 53.37h-2.8M237.72 105.7v2.6M179.3 52.45h-2.8M238.62 105.7v4.2M179.3 51.63h-4.8M244.58 105.7v2.6M179.3 46.20h-2.8M248.06 105.7v2.6M179.3 43.02h-2.8M250.53 105.7v2.6M179.3 40.77h-2.8M252.45 105.7v2.6M179.3 39.03h-2.8M254.01 105.7v2.6M179.3 37.60h-2.8M255.34 105.7v2.6M179.3 36.39h-2.8M256.48 105.7v2.6M179.3 35.35h-2.8M257.50 105.7v2.6M179.3 34.42h-2.8M258.40 105.7v4.2M179.3 33.60h-4.8" stroke="#000" stroke-width="1.3" fill="none"/>
<text x="172.6" y="121.5" font-size="11.2" font-weight="bold" text-anchor="start" fill="#000" textLength="9.3" lengthAdjust="spacingAndGlyphs" stroke="#000" stroke-width="0.25">10</text>
<text x="182.0" y="115.9" font-size="9.6" font-weight="bold" text-anchor="start" fill="#000" textLength="5.2" lengthAdjust="spacingAndGlyphs" stroke="#000" stroke-width="0.25">0</text>
<text x="192.0" y="121.5" font-size="11.2" font-weight="bold" text-anchor="start" fill="#000" textLength="9.3" lengthAdjust="spacingAndGlyphs" stroke="#000" stroke-width="0.25">10</text>
<text x="203.4" y="115.9" font-size="9.6" font-weight="bold" text-anchor="start" fill="#000" textLength="5.2" lengthAdjust="spacingAndGlyphs" stroke="#000" stroke-width="0.25">1</text>
<text x="211.6" y="121.5" font-size="11.2" font-weight="bold" text-anchor="start" fill="#000" textLength="9.3" lengthAdjust="spacingAndGlyphs" stroke="#000" stroke-width="0.25">10</text>
<text x="221.0" y="115.9" font-size="9.6" font-weight="bold" text-anchor="start" fill="#000" textLength="5.2" lengthAdjust="spacingAndGlyphs" stroke="#000" stroke-width="0.25">2</text>
<text x="230.6" y="121.5" font-size="11.2" font-weight="bold" text-anchor="start" fill="#000" textLength="9.3" lengthAdjust="spacingAndGlyphs" stroke="#000" stroke-width="0.25">10</text>
<text x="240.0" y="115.9" font-size="9.6" font-weight="bold" text-anchor="start" fill="#000" textLength="5.2" lengthAdjust="spacingAndGlyphs" stroke="#000" stroke-width="0.25">3</text>
<text x="248.9" y="121.5" font-size="11.2" font-weight="bold" text-anchor="start" fill="#000" textLength="9.3" lengthAdjust="spacingAndGlyphs" stroke="#000" stroke-width="0.25">10</text>
<text x="258.3" y="115.9" font-size="9.6" font-weight="bold" text-anchor="start" fill="#000" textLength="5.2" lengthAdjust="spacingAndGlyphs" stroke="#000" stroke-width="0.25">4</text>
<text x="205.0" y="131.4" font-size="10.4" font-weight="bold" text-anchor="start" fill="#000" textLength="25.4" lengthAdjust="spacingAndGlyphs" >FL1-H</text>
<g transform="translate(170.7 111.6) rotate(-90)">
<text x="0" y="0" font-size="10.4" font-weight="bold" text-anchor="start" fill="#000" textLength="8.6" lengthAdjust="spacingAndGlyphs" stroke="#000" stroke-width="0.25">10</text>
<text x="9.2" y="-5.4" font-size="7.8" font-weight="bold" text-anchor="start" fill="#000" textLength="6.0" lengthAdjust="spacingAndGlyphs" stroke="#000" stroke-width="0.25">0</text>
</g>
<g transform="translate(170.7 40.8) rotate(-90)">
<text x="0" y="0" font-size="10.4" font-weight="bold" text-anchor="start" fill="#000" textLength="8.6" lengthAdjust="spacingAndGlyphs" stroke="#000" stroke-width="0.25">10</text>
<text x="9.2" y="-5.4" font-size="7.8" font-weight="bold" text-anchor="start" fill="#000" textLength="6.0" lengthAdjust="spacingAndGlyphs" stroke="#000" stroke-width="0.25">4</text>
</g>
<g transform="translate(158.9 83.2) rotate(-90)">
<text x="0" y="0" font-size="10.6" font-weight="normal" text-anchor="start" fill="#000" textLength="24.8" lengthAdjust="spacingAndGlyphs" stroke="#000" stroke-width="0.4">FL2-H</text>
</g>
<text x="215.9" y="28.9" font-size="11.9" font-weight="bold" text-anchor="middle" fill="#000" textLength="78.6" lengthAdjust="spacingAndGlyphs" >Tg-TPCR<tspan font-weight="normal">&#916;</tspan>CD28</text>
<text x="214.6" y="48.1" font-size="13.6" font-weight="bold" text-anchor="start" fill="#000" textLength="36.6" lengthAdjust="spacingAndGlyphs" >10.5%</text>
</g>
<g>
<path d="M324.2 73.6h1.25M320.9 82.2h1.25M315.8 80.7h1.25M324.3 72.9h1.25M325.1 69.3h1.25M316.3 86.6h1.25M314.4 79.4h1.25M316.6 80.2h1.25M320.8 74.3h1.25M317.2 83.6h1.25M316.5 69.0h1.25M313.3 79.0h1.25M326.0 68.3h1.25M348.0 58.2h1.25M323.1 75.8h1.25M318.9 70.9h1.25M324.0 73.2h1.25M315.2 78.5h1.25M308.9 71.3h1.25M318.7 76.8h1.25M329.2 71.5h1.25M322.7 68.1h1.25M333.0 71.3h1.25M316.6 81.5h1.25M314.0 80.0h1.25M329.6 69.6h1.25M326.1 81.3h1.25M325.8 66.4h1.25M331.1 74.4h1.25M327.2 75.0h1.25M326.5 76.7h1.25M333.4 66.6h1.25M314.0 76.7h1.25M330.8 76.5h1.25M331.5 65.7h1.25M312.5 86.4h1.25M317.8 70.3h1.25M330.3 66.2h1.25M323.2 79.6h1.25M313.3 82.6h1.25M325.9 75.7h1.25M314.1 81.7h1.25M319.4 73.5h1.25M312.4 85.8h1.25M322.6 75.5h1.25M312.5 85.6h1.25M303.7 82.9h1.25M306.0 76.2h1.25M339.4 64.0h1.25M314.0 71.0h1.25M321.5 75.2h1.25M320.5 76.1h1.25M309.1 79.0h1.25M325.1 75.2h1.25M309.3 78.1h1.25M308.6 83.8h1.25M323.3 73.4h1.25M328.3 74.3h1.25M322.4 83.0h1.25M341.5 59.4h1.25M325.5 74.9h1.25M322.0 70.9h1.25M315.2 75.4h1.25M319.2 79.5h1.25M308.2 73.5h1.25M327.5 73.6h1.25M320.2 71.5h1.25M314.5 78.1h1.25M317.3 80.5h1.25M325.1 77.4h1.25M318.6 76.9h1.25M307.6 73.6h1.25M333.0 63.8h1.25M312.2 79.3h1.25M323.1 68.9h1.25M335.9 68.9h1.25M320.7 76.5h1.25M312.0 80.1h1.25M306.8 79.5h1.25M306.9 83.2h1.25M325.1 73.5h1.25M297.9 79.8h1.25M324.6 71.0h1.25M318.4 76.1h1.25M302.5 82.4h1.25M313.0 76.1h1.25M329.8 69.8h1.25M323.3 76.5h1.25M307.1 79.1h1.25M308.2 76.0h1.25M301.4 77.1h1.25M325.0 73.8h1.25M321.4 69.3h1.25M311.8 74.3h1.25M308.7 73.7h1.25M312.0 82.5h1.25M317.1 81.1h1.25M321.8 73.9h1.25M307.7 76.1h1.25M322.1 73.0h1.25M321.6 72.9h1.25M342.2 64.4h1.25M319.8 80.6h1.25M311.9 76.0h1.25M321.0 70.2h1.25M322.4 71.0h1.25M310.9 80.9h1.25M314.1 76.0h1.25M322.5 76.0h1.25M328.3 73.3h1.25M311.3 76.4h1.25M318.7 71.7h1.25M305.9 83.6h1.25M309.8 78.7h1.25M327.9 70.8h1.25M310.3 86.9h1.25M312.9 78.3h1.25M318.2 80.8h1.25M330.8 74.0h1.25M327.8 72.6h1.25M313.7 79.3h1.25M321.2 80.4h1.25M322.8 72.2h1.25M328.5 71.9h1.25M312.8 78.0h1.25M337.8 68.7h1.25M312.6 74.8h1.25M321.9 74.3h1.25M327.2 72.9h1.25M317.0 71.3h1.25M343.1 60.1h1.25M309.1 85.6h1.25M320.9 69.9h1.25M308.0 83.9h1.25M311.8 87.3h1.25M316.0 77.3h1.25M327.0 72.4h1.25M330.7 74.9h1.25M324.6 80.0h1.25M323.7 75.3h1.25M328.5 75.0h1.25M329.6 76.4h1.25M311.7 70.7h1.25M332.8 70.1h1.25M323.9 82.3h1.25M327.5 70.6h1.25M320.3 76.0h1.25M304.0 82.2h1.25M337.1 74.2h1.25M313.4 71.5h1.25M325.4 71.2h1.25M320.1 78.7h1.25M321.1 72.2h1.25M328.4 70.4h1.25M320.0 77.2h1.25M338.0 62.6h1.25M318.5 83.5h1.25M307.6 70.6h1.25M338.5 68.9h1.25M319.6 75.6h1.25M300.0 79.7h1.25M309.0 80.7h1.25M321.6 64.9h1.25M333.2 75.7h1.25M320.4 78.5h1.25M314.3 77.1h1.25M312.8 79.9h1.25M321.0 73.2h1.25M327.0 73.1h1.25M323.5 78.5h1.25M321.1 70.4h1.25M338.2 70.0h1.25M297.7 85.7h1.25M341.7 69.1h1.25M327.2 74.8h1.25M317.8 79.4h1.25M318.3 74.6h1.25M309.6 78.7h1.25M308.1 77.9h1.25M317.2 73.0h1.25M310.2 76.6h1.25M329.0 75.1h1.25M316.6 76.3h1.25M328.9 70.7h1.25M317.4 79.3h1.25M327.2 73.9h1.25M337.3 67.2h1.25M329.5 73.8h1.25M327.9 81.7h1.25M319.1 76.9h1.25M338.2 60.2h1.25M309.5 76.9h1.25M308.6 77.1h1.25M313.1 74.6h1.25M317.2 79.3h1.25M310.5 76.1h1.25M332.8 71.5h1.25M319.1 78.4h1.25M332.4 72.6h1.25M319.7 70.3h1.25M325.8 76.4h1.25M318.7 76.3h1.25M318.5 73.9h1.25M308.8 80.4h1.25M330.7 63.5h1.25M324.3 71.2h1.25M308.7 68.5h1.25M315.0 82.7h1.25M326.5 77.7h1.25M325.9 71.5h1.25M327.3 78.9h1.25M311.3 84.2h1.25M330.5 70.5h1.25M330.6 70.8h1.25M317.1 82.7h1.25M321.6 75.4h1.25M319.3 70.5h1.25M305.2 83.8h1.25M308.0 84.6h1.25M330.5 67.3h1.25M315.0 81.4h1.25M313.5 78.2h1.25M310.1 75.2h1.25M320.1 69.7h1.25M311.3 80.9h1.25M312.9 77.2h1.25M342.0 61.1h1.25M318.6 76.0h1.25M313.3 83.4h1.25M326.5 75.6h1.25M337.2 70.1h1.25M340.4 67.8h1.25M342.0 67.0h1.25M304.7 81.4h1.25M315.3 82.4h1.25M341.6 56.0h1.25M317.8 71.0h1.25M328.6 83.7h1.25M303.6 85.8h1.25M327.1 74.3h1.25M316.2 76.2h1.25M300.8 75.3h1.25M304.1 80.7h1.25M307.2 80.6h1.25M323.9 70.2h1.25M317.9 77.8h1.25M297.7 94.9h1.25M317.9 70.5h1.25M319.8 78.0h1.25M335.8 67.8h1.25M306.6 79.3h1.25M336.2 71.1h1.25M304.0 81.8h1.25M320.2 80.7h1.25M313.2 75.2h1.25M322.7 73.6h1.25M321.7 80.0h1.25M330.0 72.4h1.25M317.2 66.8h1.25M312.8 79.3h1.25M328.6 62.8h1.25M313.6 86.2h1.25M318.3 75.0h1.25M311.4 76.2h1.25M326.2 76.8h1.25M332.5 74.8h1.25M319.1 81.9h1.25M339.6 72.2h1.25M321.6 77.5h1.25M325.5 67.8h1.25M309.4 82.5h1.25M315.5 80.6h1.25M310.8 72.1h1.25M321.8 72.8h1.25M302.7 89.8h1.25M325.2 65.8h1.25M313.7 81.0h1.25M304.2 77.3h1.25M303.9 83.9h1.25M307.6 82.5h1.25M322.0 70.6h1.25M300.5 69.2h1.25M310.3 83.2h1.25M327.5 75.5h1.25M318.3 70.0h1.25M323.3 76.5h1.25M317.7 72.8h1.25M314.3 81.5h1.25M308.2 81.8h1.25M303.9 79.4h1.25M321.2 67.9h1.25M320.4 75.3h1.25M317.6 70.2h1.25M306.9 73.2h1.25M323.4 59.4h1.25M311.3 83.0h1.25M322.3 75.6h1.25M329.8 65.3h1.25M329.8 72.0h1.25M324.0 74.0h1.25M327.7 65.0h1.25M316.4 78.1h1.25M314.5 74.6h1.25M314.4 70.2h1.25M331.0 71.4h1.25M326.8 66.0h1.25M332.0 77.4h1.25M324.6 74.4h1.25M325.9 84.0h1.25M322.7 78.9h1.25M311.4 81.3h1.25M316.8 69.4h1.25M318.2 86.5h1.25M318.1 85.9h1.25M314.3 82.4h1.25M323.8 72.9h1.25M316.9 82.2h1.25M326.8 65.3h1.25M320.4 74.6h1.25M318.1 84.3h1.25M328.4 80.3h1.25M314.1 78.2h1.25M338.4 73.8h1.25M303.3 85.5h1.25M313.8 76.2h1.25M336.6 63.6h1.25M331.0 63.5h1.25M326.7 69.3h1.25M317.1 82.8h1.25M323.2 77.5h1.25M322.5 72.5h1.25M315.3 74.3h1.25M316.5 74.4h1.25M326.9 68.6h1.25M305.7 83.0h1.25M324.5 73.8h1.25M326.3 69.8h1.25M320.3 66.9h1.25M322.3 76.0h1.25M317.1 75.7h1.25M308.4 76.6h1.25M311.2 83.8h1.25M320.8 81.8h1.25M328.0 72.4h1.25M320.0 71.4h1.25M323.8 75.2h1.25M317.3 79.3h1.25M326.1 71.7h1.25M319.9 72.0h1.25M316.2 66.8h1.25M330.1 67.9h1.25M324.7 75.8h1.25M328.3 79.0h1.25M337.2 75.5h1.25M326.9 66.4h1.25M325.9 69.3h1.25M322.0 71.9h1.25M317.2 79.9h1.25M332.2 75.0h1.25M317.7 76.0h1.25M311.9 78.3h1.25M304.4 76.7h1.25M307.8 78.5h1.25M312.4 76.5h1.25M305.1 83.7h1.25M311.1 74.2h1.25M334.3 69.4h1.25M306.1 82.3h1.25M336.8 75.0h1.25M326.2 75.6h1.25M326.4 68.7h1.25M312.6 66.2h1.25M328.6 69.0h1.25M321.0 66.9h1.25M309.4 78.8h1.25M318.4 66.8h1.25M322.3 76.7h1.25M313.5 80.6h1.25M320.7 73.3h1.25M320.0 77.8h1.25M322.2 72.6h1.25M316.5 75.2h1.25M318.3 76.1h1.25M331.8 76.1h1.25M312.7 73.9h1.25M328.6 68.4h1.25M324.4 68.0h1.25M318.0 74.0h1.25M332.1 75.9h1.25M324.4 74.0h1.25M331.1 64.3h1.25M331.7 73.3h1.25M313.7 76.4h1.25M324.1 74.1h1.25M328.3 69.5h1.25M310.5 74.9h1.25M314.7 76.5h1.25M318.8 74.4h1.25M314.5 81.1h1.25M312.9 70.4h1.25M321.8 79.1h1.25M327.4 64.0h1.25M324.3 76.2h1.25M333.1 69.8h1.25M323.4 72.7h1.25M316.8 75.2h1.25M326.4 72.3h1.25M307.7 83.0h1.25M312.8 73.7h1.25M323.2 66.9h1.25M314.0 81.9h1.25M318.1 79.0h1.25M323.9 71.0h1.25M308.9 78.0h1.25M314.2 84.9h1.25M329.7 66.0h1.25M306.8 85.4h1.25M309.2 87.4h1.25M326.9 80.7h1.25M309.6 84.3h1.25M316.8 74.6h1.25M325.0 65.8h1.25M326.8 68.0h1.25M317.4 72.7h1.25M337.0 67.5h1.25M338.7 64.3h1.25M311.4 71.7h1.25M331.6 69.0h1.25M307.9 79.8h1.25M325.1 73.5h1.25M334.0 61.1h1.25M315.6 80.4h1.25M315.3 77.5h1.25M313.2 69.8h1.25M329.9 68.2h1.25M311.9 79.4h1.25M318.2 70.4h1.25M320.0 76.5h1.25M314.9 76.5h1.25M299.4 79.1h1.25M309.8 73.7h1.25M333.5 71.8h1.25M322.7 70.1h1.25M324.4 84.5h1.25M325.3 70.9h1.25M307.7 78.1h1.25M297.7 80.5h1.25M323.9 77.6h1.25M321.4 72.0h1.25M333.0 68.2h1.25M311.6 77.6h1.25M331.7 75.6h1.25M313.3 80.8h1.25M320.7 70.6h1.25M309.6 80.1h1.25M323.4 72.5h1.25M318.1 79.7h1.25M319.7 73.2h1.25M330.2 68.8h1.25M322.8 75.0h1.25M319.5 72.6h1.25M322.4 76.6h1.25M320.8 73.6h1.25M322.0 72.4h1.25M318.2 78.5h1.25M322.6 72.7h1.25M318.0 79.3h1.25M305.2 75.7h1.25M311.5 76.6h1.25M316.1 80.9h1.25M319.4 70.7h1.25M325.0 64.1h1.25M333.3 62.5h1.25M340.5 63.5h1.25M347.4 64.6h1.25M343.7 62.5h1.25M341.6 64.8h1.25M330.7 67.9h1.25M341.9 61.5h1.25M330.7 69.8h1.25M329.7 67.5h1.25M325.6 71.9h1.25M316.0 72.0h1.25M329.4 73.8h1.25M337.2 67.3h1.25M339.3 66.1h1.25M328.7 70.2h1.25M345.7 71.8h1.25M342.0 69.2h1.25M335.2 69.8h1.25M330.9 71.3h1.25M329.6 74.1h1.25M339.9 63.2h1.25M347.6 59.1h1.25M329.8 64.7h1.25M348.8 65.0h1.25M337.6 67.5h1.25M356.9 58.7h1.25M348.1 64.4h1.25M335.9 68.8h1.25M327.4 79.3h1.25M340.2 68.4h1.25M327.6 69.6h1.25M344.2 67.8h1.25M328.2 71.3h1.25M339.9 60.6h1.25M344.8 68.6h1.25M324.6 68.0h1.25M334.0 71.7h1.25M323.4 68.5h1.25M336.7 67.3h1.25M345.7 69.8h1.25M350.3 65.0h1.25M326.9 71.4h1.25M327.4 63.9h1.25M334.9 68.8h1.25M331.8 65.3h1.25M336.6 65.4h1.25M322.9 69.4h1.25M336.1 67.2h1.25M338.0 71.8h1.25M323.0 72.2h1.25M337.6 66.2h1.25M350.8 64.0h1.25M332.2 68.3h1.25M343.6 69.0h1.25M328.6 70.2h1.25M321.8 72.2h1.25M319.4 71.7h1.25M333.2 66.9h1.25M326.9 68.9h1.25M331.6 69.3h1.25M342.7 72.0h1.25M325.5 70.0h1.25M327.9 70.9h1.25M339.7 71.8h1.25M328.2 71.6h1.25M330.9 71.0h1.25M328.5 70.5h1.25M333.1 69.0h1.25M347.3 64.4h1.25M325.4 74.9h1.25M332.4 66.7h1.25M325.6 68.5h1.25M342.4 62.4h1.25M353.1 68.4h1.25M332.4 61.1h1.25M340.5 62.0h1.25M327.1 68.4h1.25M341.6 68.0h1.25M320.8 69.7h1.25M334.8 65.5h1.25M327.4 70.7h1.25M333.4 66.2h1.25M322.4 70.6h1.25M326.0 73.7h1.25M344.6 64.9h1.25M332.2 65.8h1.25M336.1 68.6h1.25M348.7 63.6h1.25M332.1 67.5h1.25M339.1 63.1h1.25M335.1 68.5h1.25M336.9 71.2h1.25M334.7 67.0h1.25M320.9 73.7h1.25M326.6 73.8h1.25M338.7 64.4h1.25M319.8 66.9h1.25M340.5 70.9h1.25M341.0 68.5h1.25M343.3 72.3h1.25M336.1 70.0h1.25M346.6 67.0h1.25M328.8 68.5h1.25M329.0 69.1h1.25M331.2 67.7h1.25M337.9 64.0h1.25M331.0 68.6h1.25M341.9 70.7h1.25M334.6 67.8h1.25M341.6 68.9h1.25M333.0 66.4h1.25M337.3 69.1h1.25M334.7 71.3h1.25M327.7 76.0h1.25M340.3 66.6h1.25M336.7 67.0h1.25M334.0 67.4h1.25M326.4 67.1h1.25M334.8 69.9h1.25M326.3 70.4h1.25M332.2 69.0h1.25M330.5 68.9h1.25M329.6 73.2h1.25M317.0 72.0h1.25M327.8 70.8h1.25M330.8 68.1h1.25M334.1 69.9h1.25M334.2 67.3h1.25M324.4 71.3h1.25M336.6 67.8h1.25M335.9 65.9h1.25M330.1 68.8h1.25M345.8 68.0h1.25M336.6 63.8h1.25M334.9 66.2h1.25M332.5 65.6h1.25M337.2 63.1h1.25M346.5 65.3h1.25M340.7 70.6h1.25M341.2 66.8h1.25M346.6 69.0h1.25M333.6 64.3h1.25M332.7 67.3h1.25M317.7 75.6h1.25M342.0 68.1h1.25M330.7 68.3h1.25M337.5 66.7h1.25M343.3 66.7h1.25M339.0 66.7h1.25M337.4 65.5h1.25M318.9 73.1h1.25M331.1 76.4h1.25M334.8 66.2h1.25M348.2 60.7h1.25M328.7 66.0h1.25M352.0 63.7h1.25M336.7 72.2h1.25M347.7 67.5h1.25M355.2 66.2h1.25M331.9 66.3h1.25M324.7 71.3h1.25M329.9 69.5h1.25M325.7 72.3h1.25M342.2 63.8h1.25M342.4 68.2h1.25M329.9 70.2h1.25M336.4 66.2h1.25M332.5 71.0h1.25M329.5 74.0h1.25M320.1 71.1h1.25M314.6 77.6h1.25M332.5 69.8h1.25M329.8 68.1h1.25M340.4 66.8h1.25M335.9 60.2h1.25M328.2 64.8h1.25M331.7 68.0h1.25M340.6 68.7h1.25M341.0 63.9h1.25M332.5 69.4h1.25M340.2 64.7h1.25M341.2 67.3h1.25M331.7 71.2h1.25M335.1 65.6h1.25M330.6 76.4h1.25M320.7 69.1h1.25M328.4 69.5h1.25M335.5 67.2h1.25M340.7 62.5h1.25M330.4 66.6h1.25M339.1 66.0h1.25M333.7 67.3h1.25M335.8 66.8h1.25M332.9 69.6h1.25M322.9 72.9h1.25M340.0 68.3h1.25M326.7 68.8h1.25M337.9 61.3h1.25M312.2 98.4h1.25M319.0 96.8h1.25M307.8 93.8h1.25M314.7 98.0h1.25M299.6 95.5h1.25M299.2 94.5h1.25M318.2 95.9h1.25M299.3 95.9h1.25M324.6 93.3h1.25M303.6 93.1h1.25M311.9 101.7h1.25M307.9 98.5h1.25M314.0 95.6h1.25M300.3 97.8h1.25M318.8 100.7h1.25M304.8 90.0h1.25M304.2 91.6h1.25M323.2 90.0h1.25M306.0 98.4h1.25M299.4 90.7h1.25M303.7 95.1h1.25M320.8 100.7h1.25M321.5 95.2h1.25M320.6 95.8h1.25M319.1 102.6h1.25M298.6 96.6h1.25M319.9 94.9h1.25M309.0 101.3h1.25M324.3 102.3h1.25M308.2 92.7h1.25M314.6 97.3h1.25M323.5 97.1h1.25M311.6 88.8h1.25M315.0 88.9h1.25M304.9 89.9h1.25M314.2 90.4h1.25M303.4 89.5h1.25M319.6 89.0h1.25M298.2 90.3h1.25M315.8 89.4h1.25M306.5 90.0h1.25M318.4 90.7h1.25M300.2 89.1h1.25M307.8 90.0h1.25" stroke="#000" stroke-width="1.25" fill="none"/>
<rect x="296.9" y="33.6" width="79.1" height="72.1" fill="none" stroke="#000" stroke-width="1.6"/>
<line x1="322.4" y1="33.6" x2="322.4" y2="114.7" stroke="#000" stroke-width="1.5" />
<line x1="292.29999999999995" y1="88.2" x2="376.0" y2="88.2" stroke="#000" stroke-width="1.6" />
<path d="M296.90 105.7v4.2M296.9 105.70h-4.8M302.85 105.7v2.6M296.9 100.27h-2.8M306.34 105.7v2.6M296.9 97.10h-2.8M308.81 105.7v2.6M296.9 94.85h-2.8M310.72 105.7v2.6M296.9 93.10h-2.8M312.29 105.7v2.6M296.9 91.67h-2.8M313.61 105.7v2.6M296.9 90.47h-2.8M314.76 105.7v2.6M296.9 89.42h-2.8M315.77 105.7v2.6M296.9 88.50h-2.8M316.67 105.7v4.2M296.9 87.68h-4.8M322.63 105.7v2.6M296.9 82.25h-2.8M326.11 105.7v2.6M296.9 79.07h-2.8M328.58 105.7v2.6M296.9 76.82h-2.8M330.50 105.7v2.6M296.9 75.08h-2.8M332.06 105.7v2.6M296.9 73.65h-2.8M333.39 105.7v2.6M296.9 72.44h-2.8M334.53 105.7v2.6M296.9 71.40h-2.8M335.55 105.7v2.6M296.9 70.47h-2.8M336.45 105.7v4.2M296.9 69.65h-4.8M342.40 105.7v2.6M296.9 64.22h-2.8M345.89 105.7v2.6M296.9 61.05h-2.8M348.36 105.7v2.6M296.9 58.80h-2.8M350.27 105.7v2.6M296.9 57.05h-2.8M351.84 105.7v2.6M296.9 55.62h-2.8M353.16 105.7v2.6M296.9 54.42h-2.8M354.31 105.7v2.6M296.9 53.37h-2.8M355.32 105.7v2.6M296.9 52.45h-2.8M356.22 105.7v4.2M296.9 51.63h-4.8M362.18 105.7v2.6M296.9 46.20h-2.8M365.66 105.7v2.6M296.9 43.02h-2.8M368.13 105.7v2.6M296.9 40.77h-2.8M370.05 105.7v2.6M296.9 39.03h-2.8M371.61 105.7v2.6M296.9 37.60h-2.8M372.94 105.7v2.6M296.9 36.39h-2.8M374.08 105.7v2.6M296.9 35.35h-2.8M375.10 105.7v2.6M296.9 34.42h-2.8M376.00 105.7v4.2M296.9 33.60h-4.8" stroke="#000" stroke-width="1.3" fill="none"/>
<text x="290.2" y="121.5" font-size="11.2" font-weight="bold" text-anchor="start" fill="#000" textLength="9.3" lengthAdjust="spacingAndGlyphs" stroke="#000" stroke-width="0.25">10</text>
<text x="299.6" y="115.9" font-size="9.6" font-weight="bold" text-anchor="start" fill="#000" textLength="5.2" lengthAdjust="spacingAndGlyphs" stroke="#000" stroke-width="0.25">0</text>
<text x="309.6" y="121.5" font-size="11.2" font-weight="bold" text-anchor="start" fill="#000" textLength="9.3" lengthAdjust="spacingAndGlyphs" stroke="#000" stroke-width="0.25">10</text>
<text x="321.0" y="115.9" font-size="9.6" font-weight="bold" text-anchor="start" fill="#000" textLength="5.2" lengthAdjust="spacingAndGlyphs" stroke="#000" stroke-width="0.25">1</text>
<text x="329.2" y="121.5" font-size="11.2" font-weight="bold" text-anchor="start" fill="#000" textLength="9.3" lengthAdjust="spacingAndGlyphs" stroke="#000" stroke-width="0.25">10</text>
<text x="338.6" y="115.9" font-size="9.6" font-weight="bold" text-anchor="start" fill="#000" textLength="5.2" lengthAdjust="spacingAndGlyphs" stroke="#000" stroke-width="0.25">2</text>
<text x="348.2" y="121.5" font-size="11.2" font-weight="bold" text-anchor="start" fill="#000" textLength="9.3" lengthAdjust="spacingAndGlyphs" stroke="#000" stroke-width="0.25">10</text>
<text x="357.6" y="115.9" font-size="9.6" font-weight="bold" text-anchor="start" fill="#000" textLength="5.2" lengthAdjust="spacingAndGlyphs" stroke="#000" stroke-width="0.25">3</text>
<text x="366.5" y="121.5" font-size="11.2" font-weight="bold" text-anchor="start" fill="#000" textLength="9.3" lengthAdjust="spacingAndGlyphs" stroke="#000" stroke-width="0.25">10</text>
<text x="375.9" y="115.9" font-size="9.6" font-weight="bold" text-anchor="start" fill="#000" textLength="5.2" lengthAdjust="spacingAndGlyphs" stroke="#000" stroke-width="0.25">4</text>
<text x="322.6" y="131.4" font-size="10.4" font-weight="bold" text-anchor="start" fill="#000" textLength="25.4" lengthAdjust="spacingAndGlyphs" >FL1-H</text>
<g transform="translate(288.3 111.6) rotate(-90)">
<text x="0" y="0" font-size="10.4" font-weight="bold" text-anchor="start" fill="#000" textLength="8.6" lengthAdjust="spacingAndGlyphs" stroke="#000" stroke-width="0.25">10</text>
<text x="9.2" y="-5.4" font-size="7.8" font-weight="bold" text-anchor="start" fill="#000" textLength="6.0" lengthAdjust="spacingAndGlyphs" stroke="#000" stroke-width="0.25">0</text>
</g>
<g transform="translate(288.3 40.8) rotate(-90)">
<text x="0" y="0" font-size="10.4" font-weight="bold" text-anchor="start" fill="#000" textLength="8.6" lengthAdjust="spacingAndGlyphs" stroke="#000" stroke-width="0.25">10</text>
<text x="9.2" y="-5.4" font-size="7.8" font-weight="bold" text-anchor="start" fill="#000" textLength="6.0" lengthAdjust="spacingAndGlyphs" stroke="#000" stroke-width="0.25">4</text>
</g>
<g transform="translate(276.5 83.2) rotate(-90)">
<text x="0" y="0" font-size="10.6" font-weight="normal" text-anchor="start" fill="#000" textLength="24.8" lengthAdjust="spacingAndGlyphs" stroke="#000" stroke-width="0.4">FL2-H</text>
</g>
<text x="337.3" y="28.9" font-size="11.9" font-weight="bold" text-anchor="middle" fill="#000" textLength="29.6" lengthAdjust="spacingAndGlyphs" >Tg 8.4</text>
<text x="332.5" y="48.1" font-size="13.6" font-weight="bold" text-anchor="start" fill="#000" textLength="37" lengthAdjust="spacingAndGlyphs" >55.0%</text>
</g>
<g>
<path d="M447.4 78.9h1.25M443.0 79.8h1.25M456.8 75.9h1.25M452.2 74.6h1.25M451.7 77.7h1.25M454.9 67.6h1.25M449.5 77.6h1.25M454.4 73.1h1.25M454.5 71.4h1.25M445.7 89.9h1.25M454.0 75.2h1.25M451.1 71.6h1.25M453.5 73.6h1.25M458.6 66.4h1.25M463.2 68.6h1.25M455.5 68.4h1.25M455.3 73.3h1.25M462.0 74.6h1.25M456.0 65.2h1.25M454.2 68.4h1.25M453.8 76.8h1.25M460.9 70.6h1.25M459.1 67.1h1.25M463.8 54.9h1.25M464.8 73.9h1.25M465.1 64.1h1.25M463.2 68.7h1.25M462.7 65.9h1.25M453.9 71.2h1.25M458.1 69.2h1.25M455.9 75.2h1.25M454.0 75.8h1.25M463.0 64.1h1.25M454.6 73.4h1.25M449.0 71.3h1.25M461.2 63.4h1.25M454.3 70.2h1.25M464.2 66.9h1.25M457.6 65.1h1.25M454.8 72.4h1.25M456.1 74.8h1.25M460.8 66.5h1.25M460.2 71.9h1.25M460.6 73.4h1.25M461.2 67.6h1.25M446.2 73.0h1.25M467.4 66.0h1.25M455.5 77.3h1.25M455.0 77.9h1.25M460.9 68.0h1.25M451.3 69.8h1.25M464.2 62.2h1.25M453.4 77.8h1.25M464.4 62.2h1.25M461.4 67.8h1.25M456.5 71.5h1.25M466.2 69.0h1.25M448.7 72.6h1.25M461.5 72.7h1.25M456.7 73.6h1.25M464.0 72.4h1.25M466.8 67.6h1.25M444.9 77.3h1.25M451.5 79.8h1.25M462.1 67.7h1.25M447.9 76.4h1.25M453.5 59.8h1.25M467.1 60.9h1.25M460.0 71.6h1.25M457.1 80.8h1.25M460.5 82.8h1.25M456.3 78.5h1.25M463.8 67.9h1.25M454.0 78.4h1.25M460.3 68.3h1.25M466.3 65.3h1.25M466.6 68.2h1.25M457.8 74.1h1.25M455.1 75.1h1.25M452.8 75.1h1.25M470.8 66.2h1.25M464.5 69.7h1.25M455.2 74.6h1.25M457.3 72.4h1.25M456.5 71.8h1.25M459.1 70.9h1.25M452.8 72.5h1.25M452.9 67.9h1.25M458.5 61.3h1.25M460.3 70.4h1.25M450.1 70.2h1.25M450.1 71.7h1.25M459.0 67.1h1.25M448.4 79.2h1.25M447.1 84.2h1.25M460.2 70.5h1.25M447.2 75.0h1.25M460.6 68.1h1.25M459.0 68.3h1.25M447.5 79.8h1.25M458.7 67.9h1.25M468.0 66.2h1.25M470.2 78.0h1.25M453.4 71.3h1.25M464.0 63.1h1.25M453.7 71.0h1.25M455.4 75.9h1.25M455.4 75.0h1.25M456.0 68.8h1.25M461.4 59.6h1.25M462.1 70.4h1.25M455.2 67.5h1.25M449.7 72.4h1.25M462.5 61.8h1.25M461.6 67.0h1.25M461.4 59.5h1.25M455.7 73.5h1.25M456.6 75.2h1.25M461.7 76.1h1.25M458.9 69.3h1.25M450.6 78.3h1.25M458.7 69.7h1.25M466.6 66.6h1.25M460.1 70.7h1.25M451.4 79.6h1.25M457.0 73.0h1.25M461.0 76.2h1.25M468.3 59.6h1.25M463.7 67.7h1.25M459.1 69.9h1.25M446.5 81.2h1.25M451.5 73.8h1.25M459.4 64.2h1.25M446.2 74.6h1.25M466.1 75.0h1.25M455.4 72.7h1.25M456.3 66.1h1.25M457.8 75.6h1.25M462.0 64.7h1.25M446.6 78.0h1.25M458.6 81.2h1.25M462.7 66.1h1.25M457.8 59.5h1.25M451.1 79.1h1.25M460.5 70.6h1.25M457.8 63.5h1.25M459.7 65.2h1.25M466.4 68.7h1.25M460.3 63.1h1.25M457.7 72.9h1.25M448.1 79.8h1.25M464.0 61.0h1.25M450.2 73.5h1.25M459.3 78.5h1.25M463.1 58.7h1.25M458.9 69.4h1.25M448.3 70.3h1.25M453.4 72.9h1.25M467.6 61.2h1.25M459.1 78.3h1.25M463.4 69.4h1.25M468.6 66.9h1.25M461.0 75.7h1.25M463.3 60.3h1.25M472.6 67.1h1.25M456.2 62.7h1.25M464.4 69.2h1.25M454.8 75.1h1.25M465.6 63.2h1.25M466.4 55.8h1.25M456.2 76.2h1.25M454.7 63.9h1.25M462.8 64.4h1.25M446.2 76.7h1.25M464.0 59.4h1.25M461.8 64.4h1.25M464.3 75.1h1.25M456.2 61.0h1.25M449.5 73.4h1.25M461.2 64.8h1.25M456.2 72.4h1.25M454.0 71.8h1.25M454.7 67.4h1.25M463.0 63.1h1.25M456.4 62.9h1.25M468.5 67.8h1.25M454.5 81.3h1.25M452.8 79.0h1.25M448.5 81.2h1.25M459.1 67.8h1.25M456.8 73.4h1.25M457.8 68.7h1.25M456.1 67.8h1.25M444.9 83.7h1.25M472.5 62.8h1.25M462.4 65.6h1.25M459.9 73.3h1.25M458.7 71.2h1.25M464.3 76.9h1.25M455.8 67.7h1.25M465.9 63.9h1.25M461.0 68.8h1.25M452.1 69.4h1.25M455.4 68.8h1.25M459.7 64.1h1.25M457.4 67.2h1.25M461.2 65.9h1.25M469.2 67.9h1.25M452.8 72.7h1.25M453.5 69.3h1.25M453.3 66.5h1.25M458.4 70.6h1.25M461.8 70.9h1.25M463.1 66.8h1.25M455.5 75.0h1.25M462.0 75.5h1.25M454.4 76.6h1.25M462.4 67.1h1.25M466.1 74.0h1.25M453.5 70.2h1.25M455.0 78.4h1.25M461.7 68.2h1.25M442.1 83.6h1.25M463.2 81.8h1.25M454.8 67.0h1.25M464.0 66.1h1.25M450.6 72.0h1.25M471.9 61.8h1.25M457.8 68.0h1.25M466.1 69.3h1.25M455.5 65.7h1.25M462.9 64.0h1.25M465.6 61.4h1.25M452.6 79.1h1.25M453.9 78.7h1.25M457.7 72.5h1.25M470.5 63.8h1.25M454.4 74.5h1.25M453.6 68.5h1.25M456.8 63.3h1.25M460.1 67.3h1.25M464.7 70.7h1.25M463.8 67.2h1.25M456.0 71.1h1.25M455.2 74.6h1.25M463.4 72.6h1.25M460.1 71.7h1.25M462.0 62.5h1.25M462.4 78.4h1.25M462.7 60.5h1.25M461.4 65.3h1.25M459.9 74.1h1.25M460.2 71.5h1.25M456.1 69.0h1.25M462.0 69.6h1.25M459.8 75.6h1.25M456.1 71.3h1.25M463.0 62.5h1.25M456.1 73.6h1.25M445.7 77.4h1.25M453.4 73.9h1.25M467.8 56.6h1.25M455.1 71.0h1.25M464.5 70.7h1.25M459.7 70.5h1.25M451.7 73.4h1.25M451.1 71.2h1.25M468.4 67.5h1.25M451.2 79.7h1.25M461.5 65.9h1.25M461.2 63.2h1.25M455.6 70.1h1.25M446.5 72.1h1.25M457.9 64.4h1.25M470.5 69.6h1.25M448.8 80.1h1.25M455.8 75.3h1.25M449.7 61.5h1.25M473.3 60.7h1.25M477.4 61.5h1.25M453.3 75.8h1.25M457.1 74.6h1.25M466.1 73.0h1.25M457.1 66.4h1.25M446.4 80.6h1.25M458.6 75.9h1.25M443.7 81.9h1.25M453.6 66.8h1.25M461.7 75.8h1.25M460.3 63.7h1.25M465.3 57.7h1.25M466.2 63.6h1.25M450.9 65.8h1.25M458.3 76.7h1.25M450.4 72.7h1.25M451.2 73.3h1.25M461.3 60.4h1.25M466.4 61.7h1.25M449.4 68.2h1.25M473.5 63.5h1.25M469.4 72.3h1.25M451.7 68.2h1.25M454.4 78.5h1.25M468.0 60.7h1.25M445.1 73.0h1.25M455.9 73.8h1.25M448.6 84.8h1.25M456.7 64.0h1.25M460.2 68.9h1.25M456.8 69.0h1.25M467.1 69.3h1.25M458.3 66.2h1.25M456.8 72.0h1.25M460.9 74.1h1.25M464.9 65.9h1.25M450.1 74.5h1.25M458.5 73.3h1.25M454.4 73.3h1.25M463.4 61.3h1.25M456.9 69.7h1.25M458.3 67.3h1.25M470.4 63.3h1.25M468.4 69.8h1.25M441.9 87.7h1.25M453.1 71.1h1.25M463.0 64.2h1.25M451.3 76.0h1.25M470.1 64.5h1.25M463.0 70.5h1.25M455.7 68.2h1.25M462.5 70.5h1.25M464.7 71.7h1.25M466.4 70.9h1.25M463.4 60.3h1.25M457.7 78.3h1.25M461.6 71.5h1.25M461.1 62.6h1.25M463.0 77.3h1.25M455.4 64.3h1.25M473.3 57.3h1.25M452.9 72.6h1.25M454.7 68.9h1.25M451.0 78.6h1.25M465.2 61.1h1.25M449.9 76.6h1.25M472.0 56.6h1.25M454.2 59.2h1.25M458.4 76.9h1.25M459.2 64.5h1.25M458.2 67.4h1.25M459.8 71.2h1.25M467.3 60.6h1.25M445.5 79.5h1.25M458.2 71.5h1.25M459.8 61.2h1.25M443.5 82.0h1.25M466.8 67.2h1.25M458.3 64.8h1.25M457.9 62.9h1.25M466.9 67.2h1.25M456.7 69.5h1.25M451.5 78.9h1.25M456.9 63.1h1.25M464.8 70.8h1.25M469.6 71.5h1.25M456.0 64.4h1.25M464.7 71.8h1.25M463.2 67.9h1.25M451.9 72.0h1.25M454.9 79.8h1.25M448.5 68.6h1.25M458.0 73.7h1.25M456.9 80.3h1.25M456.2 71.6h1.25M468.3 55.4h1.25M447.8 72.4h1.25M455.3 63.4h1.25M456.8 64.6h1.25M454.8 72.1h1.25M451.9 67.0h1.25M461.5 71.4h1.25M477.0 51.1h1.25M460.8 71.8h1.25M455.8 74.9h1.25M457.9 74.0h1.25M458.8 68.6h1.25M465.1 62.9h1.25M463.7 73.3h1.25M465.9 64.7h1.25M460.0 68.5h1.25M450.9 75.5h1.25M464.2 65.4h1.25M452.5 76.1h1.25M450.0 69.6h1.25M450.7 73.5h1.25M466.6 64.7h1.25M467.9 63.3h1.25M446.2 76.9h1.25M466.5 68.9h1.25M455.9 76.3h1.25M468.1 57.4h1.25M443.8 77.5h1.25M461.2 68.1h1.25M456.0 70.8h1.25M476.2 57.9h1.25M467.9 66.9h1.25M447.0 73.4h1.25M461.2 76.0h1.25M449.2 82.4h1.25M462.3 68.8h1.25M467.8 70.0h1.25M459.1 76.6h1.25M472.7 55.1h1.25M460.2 66.3h1.25M467.1 65.0h1.25M468.3 71.4h1.25M459.1 66.8h1.25M464.0 68.3h1.25M453.2 69.1h1.25M476.5 53.0h1.25M463.3 65.8h1.25M464.3 66.5h1.25M466.0 64.9h1.25M461.8 72.0h1.25M460.4 71.5h1.25M459.3 68.1h1.25M459.0 62.6h1.25M456.6 71.2h1.25M448.8 80.2h1.25M450.7 86.3h1.25M453.5 68.7h1.25M461.9 72.4h1.25M460.9 73.6h1.25M460.4 68.9h1.25M453.4 77.5h1.25M456.2 73.1h1.25M453.8 73.4h1.25M449.7 74.1h1.25M438.6 87.5h1.25M459.0 61.1h1.25M464.6 67.0h1.25M463.8 71.6h1.25M457.3 65.5h1.25M458.4 67.2h1.25M456.1 65.9h1.25M453.8 63.9h1.25M456.5 70.8h1.25M456.7 67.1h1.25M458.6 70.8h1.25M471.6 64.2h1.25M460.0 71.2h1.25M444.6 74.8h1.25M461.7 62.2h1.25M454.9 67.7h1.25M467.8 71.4h1.25M460.4 70.5h1.25M454.9 80.6h1.25M468.0 64.2h1.25M455.5 78.3h1.25M460.9 65.7h1.25M456.6 71.8h1.25M458.2 67.0h1.25M457.7 69.1h1.25M454.4 70.1h1.25M463.2 63.8h1.25M461.8 72.8h1.25M454.8 62.0h1.25M446.4 86.3h1.25M455.0 75.4h1.25M461.9 76.4h1.25M467.5 66.5h1.25M458.8 82.3h1.25M462.2 75.1h1.25M452.2 70.0h1.25M467.9 68.6h1.25M464.6 63.5h1.25M444.1 76.9h1.25M458.9 80.1h1.25M449.5 81.7h1.25M467.1 72.7h1.25M454.4 73.8h1.25M459.1 58.2h1.25M453.8 71.6h1.25M471.1 64.5h1.25M454.4 70.3h1.25M461.7 70.4h1.25M451.8 70.9h1.25M451.1 75.2h1.25M463.8 65.1h1.25M460.3 74.8h1.25M447.3 67.6h1.25M467.6 66.8h1.25M453.3 69.4h1.25M465.1 73.2h1.25M476.3 62.0h1.25M449.0 74.8h1.25M460.3 70.6h1.25M458.1 72.7h1.25M448.1 75.4h1.25M458.7 72.3h1.25M460.3 68.5h1.25M442.7 72.4h1.25M454.3 70.8h1.25M464.4 64.1h1.25M457.2 75.5h1.25M464.2 68.8h1.25M448.5 79.3h1.25M454.0 76.3h1.25M450.8 71.5h1.25M450.8 79.0h1.25M447.7 83.4h1.25M466.2 70.0h1.25M451.2 81.7h1.25M458.4 68.2h1.25M446.7 75.9h1.25M452.1 76.2h1.25M460.8 66.4h1.25M462.3 69.8h1.25M461.6 67.3h1.25M460.0 71.0h1.25M447.1 71.9h1.25M453.0 71.1h1.25M458.4 69.6h1.25M451.1 84.2h1.25M458.4 69.0h1.25M449.4 80.4h1.25M443.5 79.0h1.25M448.8 75.7h1.25M478.4 57.8h1.25M465.5 68.2h1.25M462.6 73.4h1.25M462.3 58.9h1.25M450.5 82.5h1.25M452.6 66.5h1.25M458.2 83.3h1.25M458.9 67.8h1.25M464.1 67.9h1.25M454.1 65.8h1.25M464.7 70.0h1.25M465.6 65.6h1.25M452.8 78.7h1.25M470.7 63.0h1.25M459.7 58.5h1.25M451.5 67.2h1.25M462.4 73.2h1.25M453.7 73.2h1.25M451.8 75.8h1.25M455.4 78.4h1.25M468.5 70.4h1.25M458.8 70.0h1.25M455.8 70.7h1.25M462.0 69.8h1.25M462.9 68.7h1.25M451.5 72.7h1.25M461.2 70.4h1.25M459.6 72.3h1.25M457.3 69.1h1.25M460.0 70.3h1.25M445.8 71.5h1.25M459.9 66.7h1.25M461.7 64.7h1.25M452.8 79.9h1.25M458.0 62.8h1.25M456.3 74.2h1.25M466.0 64.8h1.25M456.7 74.8h1.25M462.3 69.4h1.25M461.0 72.3h1.25M457.7 73.8h1.25M457.0 69.8h1.25M458.4 74.4h1.25M461.1 69.6h1.25M440.3 81.5h1.25M463.9 60.5h1.25M459.6 69.0h1.25M467.1 52.5h1.25M449.1 70.3h1.25M456.5 77.9h1.25M479.0 55.9h1.25M456.6 69.7h1.25M455.1 72.4h1.25M458.9 79.1h1.25M452.7 68.4h1.25M451.6 81.4h1.25M449.4 79.4h1.25M457.0 81.4h1.25M456.6 68.3h1.25M447.5 77.2h1.25M448.9 75.1h1.25M461.5 69.1h1.25M453.7 70.0h1.25M446.1 78.0h1.25M450.8 71.6h1.25M460.1 65.8h1.25M457.0 72.1h1.25M456.3 71.9h1.25M454.0 78.4h1.25M460.8 68.9h1.25M456.5 75.4h1.25M453.5 72.5h1.25M459.9 69.3h1.25M451.8 70.2h1.25M463.0 64.3h1.25M455.4 69.3h1.25M458.3 66.0h1.25M449.3 67.4h1.25M456.0 68.7h1.25M457.9 71.4h1.25M479.7 58.4h1.25M457.0 79.4h1.25M454.9 77.7h1.25M458.1 78.5h1.25M465.9 63.4h1.25M465.7 68.6h1.25M460.1 77.1h1.25M456.3 71.0h1.25M456.8 67.6h1.25M470.6 59.9h1.25M459.3 67.1h1.25M465.2 65.0h1.25M465.0 66.1h1.25M458.3 68.5h1.25M468.6 63.4h1.25M451.7 74.9h1.25M463.0 69.5h1.25M451.5 73.5h1.25M443.2 88.9h1.25M449.1 79.9h1.25M452.6 69.8h1.25M459.4 69.5h1.25M451.9 72.8h1.25M466.0 69.8h1.25M459.3 74.2h1.25M455.4 69.4h1.25M451.6 63.1h1.25M452.8 77.6h1.25M449.6 76.2h1.25M448.0 84.9h1.25M464.5 55.9h1.25M452.5 67.8h1.25M458.2 69.3h1.25M463.5 73.6h1.25M455.6 75.7h1.25M463.7 81.1h1.25M447.4 75.6h1.25M452.2 71.4h1.25M458.6 69.5h1.25M461.9 57.6h1.25M466.9 65.9h1.25M477.2 57.7h1.25M469.4 56.9h1.25M463.0 70.1h1.25M454.9 67.2h1.25M462.1 68.3h1.25M451.4 77.2h1.25M457.7 69.2h1.25M445.5 76.4h1.25M461.6 69.2h1.25M445.1 72.1h1.25M454.4 79.3h1.25M451.2 66.1h1.25M462.0 66.3h1.25M452.7 68.2h1.25M461.1 71.5h1.25M460.5 66.7h1.25M457.1 63.7h1.25M459.5 68.0h1.25M450.8 72.1h1.25M465.0 62.0h1.25M464.9 67.6h1.25M457.4 62.7h1.25M453.6 73.5h1.25M457.6 72.7h1.25M448.5 73.3h1.25M453.9 74.1h1.25M457.1 70.5h1.25M461.3 68.7h1.25M459.3 72.8h1.25M445.6 75.4h1.25M447.9 84.3h1.25M464.8 64.0h1.25M460.7 74.2h1.25M468.4 70.7h1.25M463.8 63.6h1.25M458.5 63.4h1.25M463.5 62.7h1.25M457.9 67.2h1.25M457.1 57.6h1.25M464.3 74.9h1.25M449.9 83.0h1.25M461.6 70.0h1.25M460.0 66.2h1.25M459.3 74.6h1.25M459.2 65.9h1.25M454.2 65.8h1.25M454.8 78.3h1.25M452.0 79.3h1.25M460.9 66.7h1.25M464.6 66.5h1.25M441.1 79.2h1.25M457.0 78.4h1.25M469.9 71.7h1.25M461.7 66.7h1.25M457.4 75.7h1.25M451.9 74.1h1.25M456.0 59.9h1.25M464.2 71.8h1.25M464.4 68.3h1.25M453.5 74.9h1.25M459.9 65.9h1.25M453.5 64.9h1.25M445.9 74.8h1.25M460.2 65.4h1.25M460.6 70.3h1.25M450.4 77.8h1.25M446.5 77.9h1.25M455.2 76.8h1.25M458.4 73.5h1.25M467.7 69.4h1.25M452.8 75.6h1.25M462.1 71.4h1.25M466.6 67.2h1.25M458.0 83.5h1.25M461.7 74.5h1.25M449.5 69.1h1.25M464.7 62.2h1.25M453.8 81.5h1.25M460.4 70.8h1.25M449.8 64.2h1.25M454.1 81.0h1.25M469.8 55.9h1.25M458.0 70.0h1.25M453.8 80.0h1.25M463.0 69.9h1.25M461.0 66.3h1.25M457.5 73.7h1.25M466.6 73.3h1.25M456.3 71.9h1.25M451.0 72.9h1.25M449.3 64.8h1.25M467.9 60.4h1.25M459.8 67.1h1.25M463.4 69.1h1.25M448.4 75.7h1.25M451.9 77.5h1.25M462.0 60.1h1.25M460.1 74.4h1.25M458.3 59.3h1.25M454.3 79.5h1.25M461.9 72.9h1.25M442.2 79.0h1.25M459.2 67.5h1.25M448.4 73.9h1.25M462.9 73.1h1.25M453.7 79.5h1.25M464.7 67.3h1.25M463.7 70.6h1.25M456.1 75.8h1.25M459.0 70.4h1.25M454.6 72.3h1.25M453.0 69.6h1.25M460.8 59.3h1.25M460.6 72.7h1.25M449.7 67.1h1.25M455.1 73.2h1.25M459.1 70.8h1.25M457.3 78.2h1.25M454.4 83.5h1.25M452.2 72.3h1.25M445.8 74.3h1.25M449.5 72.3h1.25M464.3 71.7h1.25M464.2 71.1h1.25M453.1 74.0h1.25M454.2 76.9h1.25M454.9 69.9h1.25M451.3 74.5h1.25M459.0 72.2h1.25M458.8 71.4h1.25M456.2 73.6h1.25M460.1 76.1h1.25M459.5 67.3h1.25M459.6 57.3h1.25M454.4 76.1h1.25M444.6 74.2h1.25M461.0 65.3h1.25M447.3 84.2h1.25M458.6 70.0h1.25M452.7 69.2h1.25M452.6 69.5h1.25M458.6 73.6h1.25M454.0 70.3h1.25M461.4 71.9h1.25M457.4 64.1h1.25M458.0 67.9h1.25M458.9 69.8h1.25M458.9 67.9h1.25M453.3 77.3h1.25M451.7 76.0h1.25M460.8 69.7h1.25M447.1 71.5h1.25M428.1 81.5h1.25M440.3 74.2h1.25M430.6 77.4h1.25M425.9 85.3h1.25M450.7 72.9h1.25M445.8 79.4h1.25M431.0 80.3h1.25M442.5 80.2h1.25M443.7 83.7h1.25M442.5 79.7h1.25M454.0 75.6h1.25M442.1 79.5h1.25M426.4 83.4h1.25M455.1 64.3h1.25M434.3 77.2h1.25M447.9 80.6h1.25M439.8 83.3h1.25M428.0 81.7h1.25M433.7 76.1h1.25M433.0 81.4h1.25M424.1 88.6h1.25M437.0 77.0h1.25M438.5 79.4h1.25M431.6 86.6h1.25M445.6 72.2h1.25M432.0 76.5h1.25M434.9 72.8h1.25M438.9 77.3h1.25M438.6 76.5h1.25M433.8 85.1h1.25M430.0 81.3h1.25M438.5 76.5h1.25M442.8 77.1h1.25M437.9 78.7h1.25M436.0 84.1h1.25M441.9 77.1h1.25M432.3 82.6h1.25M441.9 72.9h1.25M429.5 78.1h1.25M431.7 77.6h1.25M420.0 81.7h1.25M422.1 89.0h1.25M426.4 89.5h1.25M431.5 80.9h1.25M418.0 86.7h1.25M432.8 75.8h1.25M437.3 82.7h1.25M442.6 78.8h1.25M438.3 78.2h1.25M432.2 85.9h1.25M440.2 71.4h1.25M430.7 77.8h1.25M439.0 75.8h1.25M430.9 92.2h1.25M444.5 87.0h1.25M434.4 79.7h1.25M429.5 91.5h1.25M437.8 78.5h1.25M421.6 89.9h1.25M460.3 70.8h1.25M442.4 75.6h1.25M434.6 79.0h1.25M442.9 87.2h1.25M450.7 75.8h1.25M429.2 76.7h1.25M444.6 72.3h1.25M427.5 78.9h1.25M430.3 77.3h1.25M447.9 78.1h1.25M427.3 77.8h1.25M445.6 78.0h1.25M443.2 72.6h1.25M446.3 78.0h1.25M461.8 78.7h1.25M424.5 90.3h1.25M437.4 76.9h1.25M430.3 77.6h1.25M418.0 84.8h1.25M427.4 87.2h1.25M440.1 77.9h1.25M443.9 77.9h1.25M431.4 82.2h1.25M439.6 79.2h1.25M427.1 87.8h1.25M431.3 79.4h1.25M441.4 80.6h1.25M439.0 76.3h1.25M424.8 85.1h1.25M433.7 78.7h1.25M435.3 84.3h1.25M432.0 75.3h1.25M441.6 80.7h1.25M436.1 84.9h1.25M439.2 79.0h1.25M428.7 82.9h1.25M426.6 76.0h1.25M446.4 80.6h1.25M430.8 85.7h1.25M430.1 86.7h1.25M448.8 82.7h1.25M427.5 78.2h1.25M448.8 77.3h1.25M443.4 79.8h1.25M437.2 73.1h1.25M426.4 96.7h1.25M422.6 99.8h1.25M439.9 95.3h1.25M428.8 97.6h1.25M434.4 92.4h1.25M421.9 99.8h1.25M424.2 90.5h1.25M421.4 96.2h1.25M429.6 90.2h1.25M427.7 101.2h1.25M432.2 99.8h1.25M424.8 93.2h1.25M440.2 89.1h1.25M440.5 93.7h1.25" stroke="#000" stroke-width="1.25" fill="none"/>
<rect x="417.2" y="33.6" width="79.1" height="72.1" fill="none" stroke="#000" stroke-width="1.6"/>
<line x1="442.7" y1="33.6" x2="442.7" y2="114.7" stroke="#000" stroke-width="1.5" />
<line x1="412.59999999999997" y1="88.2" x2="496.29999999999995" y2="88.2" stroke="#000" stroke-width="1.6" />
<path d="M417.20 105.7v4.2M417.2 105.70h-4.8M423.15 105.7v2.6M417.2 100.27h-2.8M426.64 105.7v2.6M417.2 97.10h-2.8M429.11 105.7v2.6M417.2 94.85h-2.8M431.02 105.7v2.6M417.2 93.10h-2.8M432.59 105.7v2.6M417.2 91.67h-2.8M433.91 105.7v2.6M417.2 90.47h-2.8M435.06 105.7v2.6M417.2 89.42h-2.8M436.07 105.7v2.6M417.2 88.50h-2.8M436.97 105.7v4.2M417.2 87.68h-4.8M442.93 105.7v2.6M417.2 82.25h-2.8M446.41 105.7v2.6M417.2 79.07h-2.8M448.88 105.7v2.6M417.2 76.82h-2.8M450.80 105.7v2.6M417.2 75.08h-2.8M452.36 105.7v2.6M417.2 73.65h-2.8M453.69 105.7v2.6M417.2 72.44h-2.8M454.83 105.7v2.6M417.2 71.40h-2.8M455.85 105.7v2.6M417.2 70.47h-2.8M456.75 105.7v4.2M417.2 69.65h-4.8M462.70 105.7v2.6M417.2 64.22h-2.8M466.19 105.7v2.6M417.2 61.05h-2.8M468.66 105.7v2.6M417.2 58.80h-2.8M470.57 105.7v2.6M417.2 57.05h-2.8M472.14 105.7v2.6M417.2 55.62h-2.8M473.46 105.7v2.6M417.2 54.42h-2.8M474.61 105.7v2.6M417.2 53.37h-2.8M475.62 105.7v2.6M417.2 52.45h-2.8M476.52 105.7v4.2M417.2 51.63h-4.8M482.48 105.7v2.6M417.2 46.20h-2.8M485.96 105.7v2.6M417.2 43.02h-2.8M488.43 105.7v2.6M417.2 40.77h-2.8M490.35 105.7v2.6M417.2 39.03h-2.8M491.91 105.7v2.6M417.2 37.60h-2.8M493.24 105.7v2.6M417.2 36.39h-2.8M494.38 105.7v2.6M417.2 35.35h-2.8M495.40 105.7v2.6M417.2 34.42h-2.8M496.30 105.7v4.2M417.2 33.60h-4.8" stroke="#000" stroke-width="1.3" fill="none"/>
<text x="410.5" y="121.5" font-size="11.2" font-weight="bold" text-anchor="start" fill="#000" textLength="9.3" lengthAdjust="spacingAndGlyphs" stroke="#000" stroke-width="0.25">10</text>
<text x="419.9" y="115.9" font-size="9.6" font-weight="bold" text-anchor="start" fill="#000" textLength="5.2" lengthAdjust="spacingAndGlyphs" stroke="#000" stroke-width="0.25">0</text>
<text x="429.9" y="121.5" font-size="11.2" font-weight="bold" text-anchor="start" fill="#000" textLength="9.3" lengthAdjust="spacingAndGlyphs" stroke="#000" stroke-width="0.25">10</text>
<text x="441.3" y="115.9" font-size="9.6" font-weight="bold" text-anchor="start" fill="#000" textLength="5.2" lengthAdjust="spacingAndGlyphs" stroke="#000" stroke-width="0.25">1</text>
<text x="449.5" y="121.5" font-size="11.2" font-weight="bold" text-anchor="start" fill="#000" textLength="9.3" lengthAdjust="spacingAndGlyphs" stroke="#000" stroke-width="0.25">10</text>
<text x="458.9" y="115.9" font-size="9.6" font-weight="bold" text-anchor="start" fill="#000" textLength="5.2" lengthAdjust="spacingAndGlyphs" stroke="#000" stroke-width="0.25">2</text>
<text x="468.5" y="121.5" font-size="11.2" font-weight="bold" text-anchor="start" fill="#000" textLength="9.3" lengthAdjust="spacingAndGlyphs" stroke="#000" stroke-width="0.25">10</text>
<text x="477.9" y="115.9" font-size="9.6" font-weight="bold" text-anchor="start" fill="#000" textLength="5.2" lengthAdjust="spacingAndGlyphs" stroke="#000" stroke-width="0.25">3</text>
<text x="486.8" y="121.5" font-size="11.2" font-weight="bold" text-anchor="start" fill="#000" textLength="9.3" lengthAdjust="spacingAndGlyphs" stroke="#000" stroke-width="0.25">10</text>
<text x="496.2" y="115.9" font-size="9.6" font-weight="bold" text-anchor="start" fill="#000" textLength="5.2" lengthAdjust="spacingAndGlyphs" stroke="#000" stroke-width="0.25">4</text>
<text x="442.9" y="131.4" font-size="10.4" font-weight="bold" text-anchor="start" fill="#000" textLength="25.4" lengthAdjust="spacingAndGlyphs" >FL1-H</text>
<g transform="translate(408.6 111.6) rotate(-90)">
<text x="0" y="0" font-size="10.4" font-weight="bold" text-anchor="start" fill="#000" textLength="8.6" lengthAdjust="spacingAndGlyphs" stroke="#000" stroke-width="0.25">10</text>
<text x="9.2" y="-5.4" font-size="7.8" font-weight="bold" text-anchor="start" fill="#000" textLength="6.0" lengthAdjust="spacingAndGlyphs" stroke="#000" stroke-width="0.25">0</text>
</g>
<g transform="translate(408.6 40.8) rotate(-90)">
<text x="0" y="0" font-size="10.4" font-weight="bold" text-anchor="start" fill="#000" textLength="8.6" lengthAdjust="spacingAndGlyphs" stroke="#000" stroke-width="0.25">10</text>
<text x="9.2" y="-5.4" font-size="7.8" font-weight="bold" text-anchor="start" fill="#000" textLength="6.0" lengthAdjust="spacingAndGlyphs" stroke="#000" stroke-width="0.25">4</text>
</g>
<g transform="translate(396.8 83.2) rotate(-90)">
<text x="0" y="0" font-size="10.6" font-weight="normal" text-anchor="start" fill="#000" textLength="24.8" lengthAdjust="spacingAndGlyphs" stroke="#000" stroke-width="0.4">FL2-H</text>
</g>
<text x="454.2" y="28.9" font-size="11.9" font-weight="bold" text-anchor="middle" fill="#000" textLength="30.2" lengthAdjust="spacingAndGlyphs" >Tg 8.7</text>
<text x="454.5" y="48.1" font-size="13.6" font-weight="bold" text-anchor="start" fill="#000" textLength="37" lengthAdjust="spacingAndGlyphs" >83.0%</text>
</g>
<g transform="translate(19.7 118.6) rotate(-90)">
<text x="0" y="0" font-size="11.2" font-weight="normal" text-anchor="start" fill="#000" textLength="42.6" lengthAdjust="spacingAndGlyphs" stroke="#000" stroke-width="0.3">Thy 1.2+</text>
</g>
<line x1="14.6" y1="72" x2="14.6" y2="48" stroke="#000" stroke-width="1.6" />
<path d="M14.6 36.3 L19.3 48.6 H9.9 Z" fill="#000"/>
<text x="31.0" y="145.5" font-size="10.9" font-weight="normal" text-anchor="start" fill="#000" textLength="26.2" lengthAdjust="spacingAndGlyphs" stroke="#000" stroke-width="0.35">CD25</text>
<text x="57.9" y="142.2" font-size="10" font-weight="normal" text-anchor="start" fill="#000" stroke="#000" stroke-width="0.35">+</text>
<line x1="68.8" y1="142.1" x2="106" y2="142.1" stroke="#000" stroke-width="1.7" />
<path d="M118.2 142.1 L105.6 137.7 V146.5 Z" fill="#000"/>
<line x1="85.6" y1="174.8" x2="85.6" y2="417.4" stroke="#7c7c7c" stroke-width="1.5" />
<line x1="82.0" y1="414.2" x2="494.0" y2="414.2" stroke="#6a6a6a" stroke-width="1.4" />
<text x="79.9" y="419.6" font-size="13.8" font-weight="normal" text-anchor="end" fill="#000" textLength="7.4" lengthAdjust="spacingAndGlyphs" stroke="#000" stroke-width="0.2">0</text>
<line x1="82.39999999999999" y1="390.32" x2="85.6" y2="390.32" stroke="#7c7c7c" stroke-width="1.1" />
<text x="79.2" y="395.7" font-size="13.8" font-weight="normal" text-anchor="end" fill="#000" textLength="14.5" lengthAdjust="spacingAndGlyphs" stroke="#000" stroke-width="0.2">10</text>
<line x1="82.39999999999999" y1="366.44" x2="85.6" y2="366.44" stroke="#7c7c7c" stroke-width="1.1" />
<text x="79.2" y="371.8" font-size="13.8" font-weight="normal" text-anchor="end" fill="#000" textLength="14.5" lengthAdjust="spacingAndGlyphs" stroke="#000" stroke-width="0.2">20</text>
<line x1="82.39999999999999" y1="342.56" x2="85.6" y2="342.56" stroke="#7c7c7c" stroke-width="1.1" />
<text x="79.2" y="348.0" font-size="13.8" font-weight="normal" text-anchor="end" fill="#000" textLength="14.5" lengthAdjust="spacingAndGlyphs" stroke="#000" stroke-width="0.2">30</text>
<line x1="82.39999999999999" y1="318.68" x2="85.6" y2="318.68" stroke="#7c7c7c" stroke-width="1.1" />
<text x="79.2" y="324.1" font-size="13.8" font-weight="normal" text-anchor="end" fill="#000" textLength="14.5" lengthAdjust="spacingAndGlyphs" stroke="#000" stroke-width="0.2">40</text>
<line x1="82.39999999999999" y1="294.8" x2="85.6" y2="294.8" stroke="#7c7c7c" stroke-width="1.1" />
<text x="79.2" y="300.2" font-size="13.8" font-weight="normal" text-anchor="end" fill="#000" textLength="14.5" lengthAdjust="spacingAndGlyphs" stroke="#000" stroke-width="0.2">50</text>
<line x1="82.39999999999999" y1="270.92" x2="85.6" y2="270.92" stroke="#7c7c7c" stroke-width="1.1" />
<text x="79.2" y="276.3" font-size="13.8" font-weight="normal" text-anchor="end" fill="#000" textLength="14.5" lengthAdjust="spacingAndGlyphs" stroke="#000" stroke-width="0.2">60</text>
<line x1="82.39999999999999" y1="247.04" x2="85.6" y2="247.04" stroke="#7c7c7c" stroke-width="1.1" />
<text x="79.2" y="252.4" font-size="13.8" font-weight="normal" text-anchor="end" fill="#000" textLength="14.5" lengthAdjust="spacingAndGlyphs" stroke="#000" stroke-width="0.2">70</text>
<line x1="82.39999999999999" y1="223.16" x2="85.6" y2="223.16" stroke="#7c7c7c" stroke-width="1.1" />
<text x="79.2" y="228.6" font-size="13.8" font-weight="normal" text-anchor="end" fill="#000" textLength="14.5" lengthAdjust="spacingAndGlyphs" stroke="#000" stroke-width="0.2">80</text>
<line x1="82.39999999999999" y1="199.28" x2="85.6" y2="199.28" stroke="#7c7c7c" stroke-width="1.1" />
<text x="79.2" y="204.7" font-size="13.8" font-weight="normal" text-anchor="end" fill="#000" textLength="14.5" lengthAdjust="spacingAndGlyphs" stroke="#000" stroke-width="0.2">90</text>
<line x1="82.39999999999999" y1="175.4" x2="85.6" y2="175.4" stroke="#7c7c7c" stroke-width="1.1" />
<text x="79.2" y="180.8" font-size="13.8" font-weight="normal" text-anchor="end" fill="#000" textLength="21.2" lengthAdjust="spacingAndGlyphs" stroke="#000" stroke-width="0.2">100</text>
<line x1="167.28" y1="414.2" x2="167.28" y2="417.8" stroke="#7c7c7c" stroke-width="1.2" />
<line x1="248.96" y1="414.2" x2="248.96" y2="417.8" stroke="#7c7c7c" stroke-width="1.2" />
<line x1="330.64" y1="414.2" x2="330.64" y2="417.8" stroke="#7c7c7c" stroke-width="1.2" />
<line x1="412.32" y1="414.2" x2="412.32" y2="417.8" stroke="#7c7c7c" stroke-width="1.2" />
<line x1="494.0" y1="414.2" x2="494.0" y2="417.8" stroke="#7c7c7c" stroke-width="1.2" />
<rect x="96.00" y="406.56" width="15.00" height="7.64" fill="#fff" stroke="#000" stroke-width="1.3"/>
<path d="M103.50 407.39V405.72M99.30 405.72h8.4M99.30 407.39h8.4" stroke="#000" stroke-width="1.2" fill="none"/>
<rect x="111.00" y="410.62" width="15.20" height="3.58" fill="url(#hatch)" stroke="#000" stroke-width="1.3"/>
<path d="M118.60 411.33V409.90M114.40 409.90h8.4M114.40 411.33h8.4" stroke="#000" stroke-width="1.2" fill="none"/>
<rect x="126.20" y="411.21" width="15.20" height="2.99" fill="#7f7f7f" stroke="#000" stroke-width="1.3"/>
<path d="M133.80 411.93V410.50M129.60 410.50h8.4M129.60 411.93h8.4" stroke="#000" stroke-width="1.2" fill="none"/>
<rect x="141.40" y="409.66" width="14.90" height="4.54" fill="#000" stroke="#000" stroke-width="1.3"/>
<path d="M148.85 409.66V408.95M144.65 408.95h8.4" stroke="#000" stroke-width="1.2" fill="none"/>
<rect x="177.00" y="392.47" width="15.70" height="21.73" fill="#fff" stroke="#000" stroke-width="1.3"/>
<path d="M184.85 394.62V390.32M180.65 390.32h8.4M180.65 394.62h8.4" stroke="#000" stroke-width="1.2" fill="none"/>
<rect x="192.70" y="393.66" width="14.60" height="20.54" fill="url(#hatch)" stroke="#000" stroke-width="1.3"/>
<path d="M200.00 395.81V391.51M195.80 391.51h8.4M195.80 395.81h8.4" stroke="#000" stroke-width="1.2" fill="none"/>
<rect x="207.30" y="397.25" width="14.90" height="16.95" fill="#7f7f7f" stroke="#000" stroke-width="1.3"/>
<path d="M214.75 398.92V395.57M210.55 395.57h8.4M210.55 398.92h8.4" stroke="#000" stroke-width="1.2" fill="none"/>
<rect x="222.20" y="386.74" width="15.80" height="27.46" fill="#000" stroke="#000" stroke-width="1.3"/>
<path d="M230.10 386.74V385.31M225.90 385.31h8.4" stroke="#000" stroke-width="1.2" fill="none"/>
<rect x="259.40" y="390.56" width="15.10" height="23.64" fill="#fff" stroke="#000" stroke-width="1.3"/>
<path d="M266.95 392.71V388.41M262.75 388.41h8.4M262.75 392.71h8.4" stroke="#000" stroke-width="1.2" fill="none"/>
<rect x="274.50" y="394.38" width="15.10" height="19.82" fill="url(#hatch)" stroke="#000" stroke-width="1.3"/>
<path d="M282.05 396.53V392.23M277.85 392.23h8.4M277.85 396.53h8.4" stroke="#000" stroke-width="1.2" fill="none"/>
<rect x="289.60" y="392.71" width="13.70" height="21.49" fill="#7f7f7f" stroke="#000" stroke-width="1.3"/>
<path d="M296.45 395.81V389.60M292.25 389.60h8.4M292.25 395.81h8.4" stroke="#000" stroke-width="1.2" fill="none"/>
<rect x="303.30" y="380.77" width="15.80" height="33.43" fill="#000" stroke="#000" stroke-width="1.3"/>
<path d="M311.20 380.77V379.57M307.00 379.57h8.4" stroke="#000" stroke-width="1.2" fill="none"/>
<rect x="340.30" y="392.71" width="15.20" height="21.49" fill="#fff" stroke="#000" stroke-width="1.3"/>
<path d="M347.90 393.90V391.51M343.70 391.51h8.4M343.70 393.90h8.4" stroke="#000" stroke-width="1.2" fill="none"/>
<rect x="355.50" y="389.60" width="15.70" height="24.60" fill="url(#hatch)" stroke="#000" stroke-width="1.3"/>
<path d="M363.35 391.04V388.17M359.15 388.17h8.4M359.15 391.04h8.4" stroke="#000" stroke-width="1.2" fill="none"/>
<rect x="371.20" y="282.86" width="14.40" height="131.34" fill="#7f7f7f" stroke="#000" stroke-width="1.3"/>
<path d="M378.40 288.35V277.37M374.20 277.37h8.4M374.20 288.35h8.4" stroke="#000" stroke-width="1.2" fill="none"/>
<rect x="385.60" y="216.23" width="16.00" height="197.97" fill="#000" stroke="#000" stroke-width="1.3"/>
<path d="M393.60 216.23V212.65M389.40 212.65h8.4" stroke="#000" stroke-width="1.2" fill="none"/>
<rect x="423.20" y="383.16" width="15.30" height="31.04" fill="#fff" stroke="#000" stroke-width="1.3"/>
<path d="M430.85 385.31V381.01M426.65 381.01h8.4M426.65 385.31h8.4" stroke="#000" stroke-width="1.2" fill="none"/>
<rect x="438.50" y="239.88" width="15.30" height="174.32" fill="url(#hatch)" stroke="#000" stroke-width="1.3"/>
<path d="M446.15 243.46V236.29M441.95 236.29h8.4M441.95 243.46h8.4" stroke="#000" stroke-width="1.2" fill="none"/>
<rect x="453.80" y="257.79" width="13.40" height="156.41" fill="#7f7f7f" stroke="#000" stroke-width="1.3"/>
<path d="M460.50 261.13V254.44M456.30 254.44h8.4M456.30 261.13h8.4" stroke="#000" stroke-width="1.2" fill="none"/>
<rect x="467.20" y="213.85" width="15.00" height="200.35" fill="#000" stroke="#000" stroke-width="1.3"/>
<path d="M474.70 213.85V206.68M470.50 206.68h8.4" stroke="#000" stroke-width="1.2" fill="none"/>
<text x="95.7" y="430.7" font-size="14" font-weight="bold" text-anchor="start" fill="#000" textLength="61.0" lengthAdjust="spacingAndGlyphs" >Non stim.</text>
<text x="191.9" y="430.7" font-size="14" font-weight="bold" text-anchor="start" fill="#000" textLength="31.6" lengthAdjust="spacingAndGlyphs" >P815</text>
<text x="263.0" y="430.7" font-size="14" font-weight="bold" text-anchor="start" fill="#000" textLength="53.3" lengthAdjust="spacingAndGlyphs" >P815-B7</text>
<text x="340.0" y="430.7" font-size="14" font-weight="bold" text-anchor="start" fill="#000" textLength="64.2" lengthAdjust="spacingAndGlyphs" >TNP-P815</text>
<text x="412.3" y="430.7" font-size="14" font-weight="bold" text-anchor="start" fill="#000" textLength="84.9" lengthAdjust="spacingAndGlyphs" >TNP-P815-B7</text>
<rect x="120.1" y="199.3" width="8.0" height="8.4" fill="#fff" stroke="#000" stroke-width="1.2"/>
<text x="136.2" y="207.9" font-size="13.5" font-weight="bold" text-anchor="start" fill="#000" textLength="19.6" lengthAdjust="spacingAndGlyphs" >WT</text>
<rect x="120.1" y="219.1" width="8.0" height="7.4" fill="url(#hatch)" stroke="#000" stroke-width="1.2"/>
<text x="136.2" y="226.4" font-size="13.5" font-weight="bold" text-anchor="start" fill="#000" textLength="101.2" lengthAdjust="spacingAndGlyphs" >Tg-TPCR<tspan font-weight="normal">&#916;</tspan>CD28</text>
<rect x="120.1" y="237.1" width="8.0" height="7.4" fill="#7f7f7f" stroke="#000" stroke-width="1.2"/>
<text x="136.2" y="244.7" font-size="13.5" font-weight="bold" text-anchor="start" fill="#000" textLength="38.8" lengthAdjust="spacingAndGlyphs" >Tg 8.4</text>
<rect x="120.1" y="255.8" width="8.0" height="8.2" fill="#000" stroke="#000" stroke-width="1.2"/>
<text x="136.2" y="263.7" font-size="13.5" font-weight="bold" text-anchor="start" fill="#000" textLength="38.8" lengthAdjust="spacingAndGlyphs" >Tg 8.7</text>
<g transform="translate(44 384) rotate(-90)">
<text x="0.2" y="0" font-size="13.5" font-weight="bold" text-anchor="start" fill="#000" textLength="34.4" lengthAdjust="spacingAndGlyphs" >CD25</text>
<text x="33.6" y="-4.0" font-size="12" font-weight="bold" text-anchor="start" fill="#000" >+</text>
<text x="48.2" y="0" font-size="13.5" font-weight="bold" text-anchor="start" fill="#000" textLength="38.8" lengthAdjust="spacingAndGlyphs" >Thy1.2</text>
<text x="87.0" y="-4.0" font-size="12" font-weight="bold" text-anchor="start" fill="#000" >+</text>
<text x="95.6" y="0" font-size="13.5" font-weight="bold" text-anchor="start" fill="#000" textLength="29.3" lengthAdjust="spacingAndGlyphs" >cells</text>
<text x="131.4" y="0" font-size="13.5" font-weight="bold" text-anchor="start" fill="#000" textLength="25.8" lengthAdjust="spacingAndGlyphs" >(%)</text>
</g>
</g>
</svg></body></html>
